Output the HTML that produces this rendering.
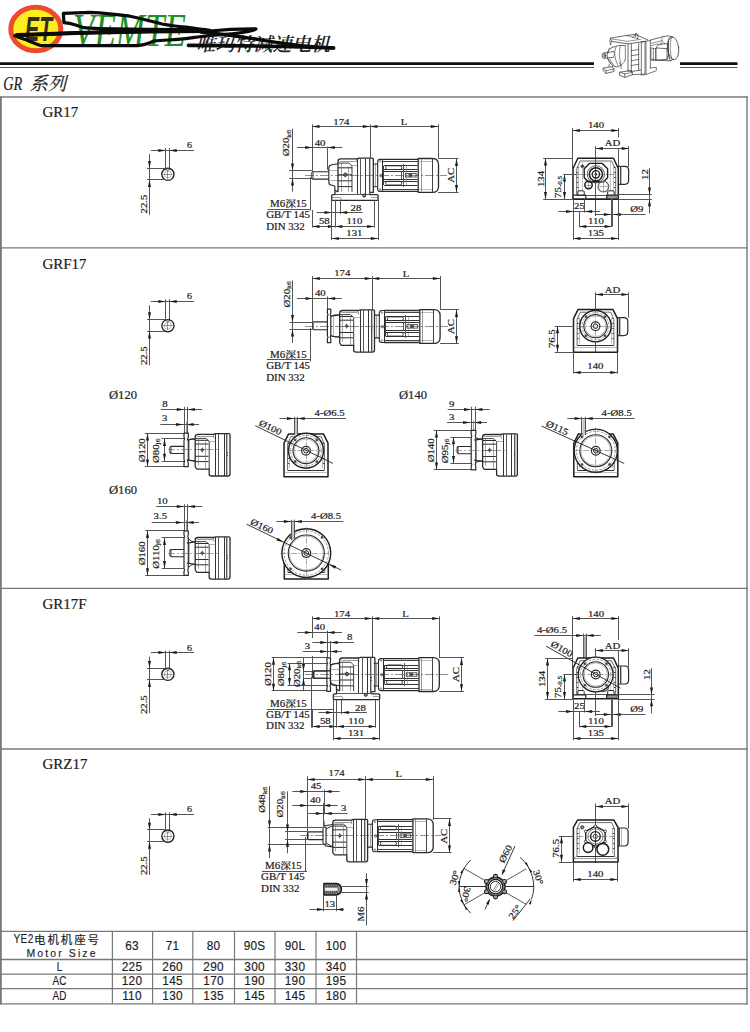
<!DOCTYPE html>
<html lang="zh"><head><meta charset="utf-8"><title>GR17</title>
<style>
html,body{margin:0;padding:0;background:#fff;}
body{width:750px;height:1032px;overflow:hidden;position:relative;}
svg{position:absolute;left:0;top:0;display:block;}
svg text{font-family:"Liberation Serif","Noto Serif CJK SC",serif;fill:#1c1c1c;stroke:#1c1c1c;stroke-width:.2px;}
svg text.sans{font-family:"Liberation Sans","Noto Sans CJK SC",sans-serif;stroke-width:.16px;}
svg text.it{font-style:italic;}
</style></head><body>
<svg width="750" height="1032" viewBox="0 0 750 1032">
<!-- s_frame -->
<line x1="0" y1="63.6" x2="594" y2="63.6" stroke="#111" stroke-width="2.6"/>
<line x1="0" y1="67.5" x2="594" y2="67.5" stroke="#555" stroke-width="1"/>
<line x1="680" y1="63.6" x2="737.5" y2="63.6" stroke="#111" stroke-width="2.6"/>
<line x1="680" y1="67.5" x2="737.5" y2="67.5" stroke="#555" stroke-width="1"/>
<text x="3.2" y="90.2" font-size="19.5" text-anchor="start" class="it" textLength="19" lengthAdjust="spacingAndGlyphs">GR</text>
<text x="29.4" y="90" font-size="18.4" text-anchor="start" class="it" >系列</text>
<line x1="0.9" y1="96.5" x2="0.9" y2="1004.4" stroke="#787878" stroke-width="1.8"/>
<line x1="747" y1="96.5" x2="747" y2="1004.4" stroke="#787878" stroke-width="1.4"/>
<line x1="0" y1="97" x2="747.7" y2="97" stroke="#787878" stroke-width="1.3"/>
<line x1="0" y1="247.8" x2="747.7" y2="247.8" stroke="#787878" stroke-width="1.3"/>
<line x1="0" y1="588.3" x2="747.7" y2="588.3" stroke="#787878" stroke-width="1.3"/>
<line x1="0" y1="749" x2="747.7" y2="749" stroke="#787878" stroke-width="1.3"/>
<text x="42.4" y="117" font-size="15" text-anchor="start" >GR17</text>
<text x="42.4" y="268.6" font-size="15" text-anchor="start" >GRF17</text>
<text x="42.4" y="608.6" font-size="15" text-anchor="start" >GR17F</text>
<text x="42.4" y="769" font-size="15" text-anchor="start" >GRZ17</text>
<!-- s_header -->
<ellipse cx="35.8" cy="29" rx="25" ry="21.8" fill="#fdee21" stroke="#ee4b2e" stroke-width="5"/>
<text x="38.6" y="40.6" font-size="35" text-anchor="middle" class="sans" style="fill:#3a2c1a;stroke:none" font-weight="bold" font-style="italic" textLength="27" lengthAdjust="spacingAndGlyphs">ET</text>
<text x="73" y="46.3" font-size="46.5" text-anchor="start" class="it" style="fill:#1f8f27;stroke:none" textLength="113" lengthAdjust="spacingAndGlyphs">VEMTE</text>
<g transform="translate(196 50.5) skewX(-14)" >
<text x="0" y="0" font-size="19" text-anchor="start" style="fill:#222;stroke:none" font-weight="600" textLength="134" lengthAdjust="spacingAndGlyphs">唯玛特减速电机</text>
</g>
<path d="M63.3 13.3 L90 12.3 C105 13 118 14.5 130 16.2 C142 18.5 152 21.5 162 24 C172 25.8 180 26.6 186 27.2 C195 28.5 203 29.6 210 30.4 L200 29.8 C170 29.6 130 29.4 100 28.7 C92 28.3 87 27.9 82.7 27.3 C79.5 26.6 77 25.6 74.7 24.7 C71 23.6 67 23 64 22.7 Z" fill="none" stroke="#0a0a0a" stroke-width="3.2" stroke-linejoin="round" stroke-linecap="round"/>
<path d="M14.7 35.7 C40 34 100 32.2 150 31.4 C175 31 195 30.8 210 31 C225 29.4 243 28.8 256 28.9 C252 31.5 238 33.6 218 35 C207 35.8 199 36.6 193 37.6 C188 38.4 183 39 178 39.4 C170 40 162 40.2 154 41 C148 43.5 143 45.4 138 45.6 L60 45.6 C50 45.6 44 45.6 40 45.3 C35 43.5 31 41.8 26.7 40 C22 38.8 18 37.5 14.7 35.7 Z" fill="none" stroke="#0a0a0a" stroke-width="3.2" stroke-linejoin="round" stroke-linecap="round"/>
<path d="M17 35.2 C60 33.2 130 31.6 205 31" fill="none" stroke="#0a0a0a" stroke-width="4.2" stroke-linejoin="round" stroke-linecap="round"/>
<path d="M100 29.3 L205 30.5" fill="none" stroke="#0a0a0a" stroke-width="3.4" stroke-linejoin="round" stroke-linecap="round"/>
<path d="M188.4 45.4 C230 45.5 290 46.6 333.6 48" fill="none" stroke="#0a0a0a" stroke-width="3.6" stroke-linejoin="round" stroke-linecap="round"/>
<path d="M201 32 C225 34.5 250 38 265 40.6 C282 43.5 300 46.2 333.6 48" fill="none" stroke="#0a0a0a" stroke-width="3.4" stroke-linejoin="round" stroke-linecap="round"/>
<!-- s_hdrgear -->
<g transform="translate(598 28) scale(0.066667)" fill="none" stroke="#333" stroke-width="11" stroke-linejoin="round" stroke-linecap="round">
<ellipse cx="88" cy="415" rx="27" ry="40"/>
<ellipse cx="90" cy="415" rx="13" ry="22" stroke-width="8"/>
<path d="M88 375 L238 352 M98 455 L215 440"/>
<path d="M238 352 Q262 400 232 445" stroke-width="8"/>
<path d="M215 290 Q120 330 140 440 Q165 540 255 580"/>
<path d="M215 290 Q300 250 400 262 M255 580 Q300 600 345 560"/>
<path d="M270 285 Q215 400 300 560" stroke-width="9"/>
<path d="M330 275 Q300 420 345 560 Q400 520 410 470" stroke-width="9"/>
<path d="M170 300 Q150 340 150 380" stroke-width="8"/>
<path d="M150 470 L200 540 M170 460 L230 545 M320 520 Q360 560 350 610" stroke-width="9"/>
<path d="M190 152 L425 112 L560 96 L745 180 M190 152 L200 200 L450 238 L700 202"/>
<path d="M215 165 L440 200 L640 170 M425 112 L600 160" stroke-width="8"/>
<path d="M200 200 L190 255 M190 152 L175 190 L185 250" stroke-width="9"/>
<path d="M520 150 L568 80 L602 100 L592 165 M568 80 L560 130" stroke-width="10"/>
<path d="M450 238 L450 640 M500 246 L500 652 M610 232 L610 640"/>
<path d="M410 262 L410 470" stroke-width="9"/>
<path d="M500 340 L610 322 M500 415 L610 398 M500 490 L610 472 M500 562 L610 545" stroke-width="10"/>
<path d="M650 210 L650 690 M705 200 L705 690 M720 198 L720 688 M785 188 L785 600" stroke-width="10"/>
<path d="M650 210 L785 188" stroke-width="10"/>
<path d="M450 640 L500 652 L640 632 M330 662 L500 640 L520 700 L400 742 L330 712 Z"/>
<path d="M400 690 L400 742 M400 690 L520 665 M330 662 L400 690" stroke-width="9"/>
<path d="M80 602 L200 580 L240 612 L240 652 L120 682 L80 642 Z"/>
<path d="M120 640 L120 682 M120 640 L240 615 M80 602 L120 640" stroke-width="9"/>
<path d="M165 585 L170 540 M215 590 L220 560" stroke-width="9"/>
<path d="M520 700 L705 690 M785 600 L875 590 L875 640 L715 700 L640 705" stroke-width="10"/>
<path d="M785 182 L975 130 M795 482 L1075 492"/>
<path d="M800 300 L865 310 L865 480 L800 470 Z M830 305 L830 476" stroke-width="9"/>
<path d="M875 300 L1035 310 L1035 470 L875 480 Z"/>
<path d="M875 300 L900 250 L1055 230 L1035 310 M1055 230 L1060 400 L1035 470" stroke-width="10"/>
<path d="M800 230 L960 190 M800 262 L900 240 M960 150 L960 235" stroke-width="8"/>
<path d="M985 210 L1000 240 M930 225 L945 255" stroke-width="8"/>
<ellipse cx="1128" cy="305" rx="82" ry="172" transform="rotate(-6 1128 305)"/>
<path d="M975 130 Q1060 100 1120 135 M1075 492 Q1100 490 1130 470"/>
<path d="M1065 150 Q1020 300 1080 480" stroke-width="10"/>
<path d="M1100 140 Q1060 300 1110 475" stroke-width="8"/>
<path d="M1040 200 L1060 205 M1035 250 L1055 255 M1045 420 L1065 425 M1050 450 L1072 455" stroke-width="7"/>
</g>
<!-- s_table -->
<line x1="0" y1="931.4" x2="747.7" y2="931.4" stroke="#787878" stroke-width="1.3"/>
<line x1="0" y1="959.5" x2="747.7" y2="959.5" stroke="#787878" stroke-width="1.3"/>
<line x1="0" y1="974.1" x2="747.7" y2="974.1" stroke="#787878" stroke-width="1.3"/>
<line x1="0" y1="988.7" x2="747.7" y2="988.7" stroke="#787878" stroke-width="1.3"/>
<line x1="0" y1="1003.8" x2="747.7" y2="1003.8" stroke="#787878" stroke-width="1.3"/>
<line x1="112.4" y1="931.4" x2="112.4" y2="1003.8" stroke="#787878" stroke-width="1.2"/>
<line x1="152.6" y1="931.4" x2="152.6" y2="1003.8" stroke="#787878" stroke-width="1.2"/>
<line x1="192.8" y1="931.4" x2="192.8" y2="1003.8" stroke="#787878" stroke-width="1.2"/>
<line x1="234.5" y1="931.4" x2="234.5" y2="1003.8" stroke="#787878" stroke-width="1.2"/>
<line x1="275" y1="931.4" x2="275" y2="1003.8" stroke="#787878" stroke-width="1.2"/>
<line x1="316" y1="931.4" x2="316" y2="1003.8" stroke="#787878" stroke-width="1.2"/>
<line x1="356.5" y1="931.4" x2="356.5" y2="1003.8" stroke="#787878" stroke-width="1.2"/>
<text transform="translate(13.4 943.2) scale(0.82 1)" font-size="12.4" text-anchor="start" class="sans"  letter-spacing="0.5">YE2</text>
<text x="34" y="943.6" font-size="11.5" text-anchor="start" class="sans"  letter-spacing="1.9">电机机座号</text>
<text transform="translate(26.4 957.2) scale(0.92 1)" font-size="11.4" text-anchor="start" class="sans"  letter-spacing="2.3">Motor Size</text>
<text transform="translate(132 950.2) scale(0.97 1)" font-size="12.2" text-anchor="middle" class="sans"  letter-spacing="0.3">63</text>
<text transform="translate(172.6 950.2) scale(0.97 1)" font-size="12.2" text-anchor="middle" class="sans"  letter-spacing="0.3">71</text>
<text transform="translate(213.6 950.2) scale(0.97 1)" font-size="12.2" text-anchor="middle" class="sans"  letter-spacing="0.3">80</text>
<text transform="translate(254.6 950.2) scale(0.97 1)" font-size="12.2" text-anchor="middle" class="sans"  letter-spacing="0.3">90S</text>
<text transform="translate(295 950.2) scale(0.97 1)" font-size="12.2" text-anchor="middle" class="sans"  letter-spacing="0.3">90L</text>
<text transform="translate(336 950.2) scale(0.97 1)" font-size="12.2" text-anchor="middle" class="sans"  letter-spacing="0.3">100</text>
<text transform="translate(59.6 970.8) scale(0.8 1)" font-size="12.4" text-anchor="middle" class="sans"  letter-spacing="0.4">L</text>
<text transform="translate(132 970.8) scale(0.97 1)" font-size="12.2" text-anchor="middle" class="sans"  letter-spacing="0.3">225</text>
<text transform="translate(172.6 970.8) scale(0.97 1)" font-size="12.2" text-anchor="middle" class="sans"  letter-spacing="0.3">260</text>
<text transform="translate(213.6 970.8) scale(0.97 1)" font-size="12.2" text-anchor="middle" class="sans"  letter-spacing="0.3">290</text>
<text transform="translate(254.6 970.8) scale(0.97 1)" font-size="12.2" text-anchor="middle" class="sans"  letter-spacing="0.3">300</text>
<text transform="translate(295 970.8) scale(0.97 1)" font-size="12.2" text-anchor="middle" class="sans"  letter-spacing="0.3">330</text>
<text transform="translate(336 970.8) scale(0.97 1)" font-size="12.2" text-anchor="middle" class="sans"  letter-spacing="0.3">340</text>
<text transform="translate(59.6 985.4) scale(0.8 1)" font-size="12.4" text-anchor="middle" class="sans"  letter-spacing="0.4">AC</text>
<text transform="translate(132 985.4) scale(0.97 1)" font-size="12.2" text-anchor="middle" class="sans"  letter-spacing="0.3">120</text>
<text transform="translate(172.6 985.4) scale(0.97 1)" font-size="12.2" text-anchor="middle" class="sans"  letter-spacing="0.3">145</text>
<text transform="translate(213.6 985.4) scale(0.97 1)" font-size="12.2" text-anchor="middle" class="sans"  letter-spacing="0.3">170</text>
<text transform="translate(254.6 985.4) scale(0.97 1)" font-size="12.2" text-anchor="middle" class="sans"  letter-spacing="0.3">190</text>
<text transform="translate(295 985.4) scale(0.97 1)" font-size="12.2" text-anchor="middle" class="sans"  letter-spacing="0.3">190</text>
<text transform="translate(336 985.4) scale(0.97 1)" font-size="12.2" text-anchor="middle" class="sans"  letter-spacing="0.3">195</text>
<text transform="translate(59.6 1000.4) scale(0.8 1)" font-size="12.4" text-anchor="middle" class="sans"  letter-spacing="0.4">AD</text>
<text transform="translate(132 1000.4) scale(0.97 1)" font-size="12.2" text-anchor="middle" class="sans"  letter-spacing="0.3">110</text>
<text transform="translate(172.6 1000.4) scale(0.97 1)" font-size="12.2" text-anchor="middle" class="sans"  letter-spacing="0.3">130</text>
<text transform="translate(213.6 1000.4) scale(0.97 1)" font-size="12.2" text-anchor="middle" class="sans"  letter-spacing="0.3">135</text>
<text transform="translate(254.6 1000.4) scale(0.97 1)" font-size="12.2" text-anchor="middle" class="sans"  letter-spacing="0.3">145</text>
<text transform="translate(295 1000.4) scale(0.97 1)" font-size="12.2" text-anchor="middle" class="sans"  letter-spacing="0.3">145</text>
<text transform="translate(336 1000.4) scale(0.97 1)" font-size="12.2" text-anchor="middle" class="sans"  letter-spacing="0.3">180</text>
<!-- s_parts -->
<!-- s_gr17 -->
<line x1="150.8" y1="150.5" x2="194" y2="150.5" stroke="#555" stroke-width="1"/>
<path d="M165.5 150.5 L158.3 152 L158.3 149 Z" fill="#1c1c1c"/>
<path d="M169.5 150.5 L176.7 149 L176.7 152 Z" fill="#1c1c1c"/>
<text transform="translate(189.4 148.1) scale(1.25 1)" font-size="8" text-anchor="middle" >6</text>
<line x1="165.5" y1="148" x2="165.5" y2="168.7" stroke="#555" stroke-width="1"/>
<line x1="169.5" y1="148" x2="169.5" y2="168.7" stroke="#555" stroke-width="1"/>
<circle cx="167.9" cy="174.3" r="6.1" fill="none" stroke="#1e1e1e" stroke-width="1.35"/>
<circle cx="167.9" cy="174.3" r="3.6" fill="none" stroke="#777" stroke-width="0.5"/>
<line x1="163.4" y1="174.5" x2="172.4" y2="174.5" stroke="#555" stroke-width="0.6"/>
<line x1="167.5" y1="169.8" x2="167.5" y2="178.8" stroke="#555" stroke-width="0.6"/>
<circle cx="167.9" cy="169.6" r="1" fill="#fff" stroke="#333" stroke-width="0.6"/>
<line x1="147" y1="168.5" x2="165.9" y2="168.5" stroke="#555" stroke-width="1"/>
<line x1="147" y1="179.5" x2="164.4" y2="179.5" stroke="#555" stroke-width="1"/>
<line x1="149.5" y1="154" x2="149.5" y2="214.8" stroke="#555" stroke-width="1"/>
<path d="M149.5 168.1 L148 160.9 L151 160.9 Z" fill="#1c1c1c"/>
<path d="M149.5 179.8 L151 187 L148 187 Z" fill="#1c1c1c"/>
<text transform="translate(146.6 204) rotate(-90) scale(1.17 1)" font-size="9.2" text-anchor="middle" >22.5</text>
<line x1="312.3" y1="126.5" x2="370.1" y2="126.5" stroke="#555" stroke-width="1"/>
<path d="M312.3 126.5 L319.5 125 L319.5 128 Z" fill="#1c1c1c"/>
<path d="M370.1 126.5 L362.9 128 L362.9 125 Z" fill="#1c1c1c"/>
<line x1="370.1" y1="126.5" x2="438" y2="126.5" stroke="#555" stroke-width="1"/>
<path d="M370.1 126.5 L377.3 125 L377.3 128 Z" fill="#1c1c1c"/>
<path d="M438 126.5 L430.8 128 L430.8 125 Z" fill="#1c1c1c"/>
<text transform="translate(341.4 124.7) scale(1.17 1)" font-size="9.2" text-anchor="middle" >174</text>
<text transform="translate(404 125.2) scale(1.17 1)" font-size="9.2" text-anchor="middle" >L</text>
<line x1="312.5" y1="124.3" x2="312.5" y2="171" stroke="#555" stroke-width="1"/>
<line x1="310.5" y1="177" x2="310.5" y2="210.5" stroke="#555" stroke-width="1"/>
<line x1="370.5" y1="124.3" x2="370.5" y2="158" stroke="#555" stroke-width="1"/>
<line x1="438.5" y1="124.3" x2="438.5" y2="158.7" stroke="#555" stroke-width="1"/>
<line x1="297.2" y1="147.5" x2="342.5" y2="147.5" stroke="#555" stroke-width="1"/>
<path d="M312.3 147.5 L305.1 149 L305.1 146 Z" fill="#1c1c1c"/>
<path d="M327.6 147.5 L334.8 146 L334.8 149 Z" fill="#1c1c1c"/>
<text transform="translate(320.1 145.7) scale(1.17 1)" font-size="9.2" text-anchor="middle" >40</text>
<line x1="327.5" y1="146.7" x2="327.5" y2="169.8" stroke="#555" stroke-width="1"/>
<text transform="translate(289.4 143.1) rotate(-90) scale(1.17 1)" font-size="9.2" text-anchor="middle" >Ø20<tspan font-size="6.6" dy="1.5">k6</tspan></text>
<line x1="292.5" y1="128.7" x2="292.5" y2="191.7" stroke="#555" stroke-width="1"/>
<path d="M292.5 170.7 L291 163.5 L294 163.5 Z" fill="#1c1c1c"/>
<path d="M292.5 178.3 L294 185.5 L291 185.5 Z" fill="#1c1c1c"/>
<line x1="289.2" y1="170.5" x2="312" y2="170.5" stroke="#555" stroke-width="1"/>
<line x1="289.2" y1="178.5" x2="312" y2="178.5" stroke="#555" stroke-width="1"/>
<line x1="305" y1="175.5" x2="447" y2="175.5" stroke="#444" stroke-width="0.6" stroke-dasharray="9 2 2 2"/>
<g transform="translate(373.3 175.4)" >
<path d="M-44.5 -3.7 H-60.4 L-61.4 -2.7 V2.7 L-60.4 3.7 H-44.5" fill="none" stroke="#2b2b2b" stroke-width="1.15" stroke-linejoin="round" />
<line x1="-59.8" y1="-3.7" x2="-59.8" y2="3.7" stroke="#555" stroke-width="0.6"/>
<path d="M-35.3 -11.7 L-41.5 -10.6 Q-44.5 -10 -44.5 -7.5 V6.5 Q-44.5 9 -42 9.6 L-38.5 10.6 V14.5 L-35.3 16.5" fill="none" stroke="#2b2b2b" stroke-width="1.15" stroke-linejoin="round" />
<line x1="-44.5" y1="-4.9" x2="-35.3" y2="-4.9" stroke="#666" stroke-width="0.5"/>
<line x1="-44.5" y1="5.1" x2="-35.3" y2="5.1" stroke="#666" stroke-width="0.5"/>
<path d="M-35.3 16.5 V-14 Q-35.3 -16.6 -32.5 -16.6 H-16 L-14.5 -17.3 H-1.2 Q0 -17.3 0 -16 V17 H-3.5 V19.2" fill="none" stroke="#2b2b2b" stroke-width="1.3" stroke-linejoin="round" />
<path d="M-35.3 -12.3 H-24 L-21.3 -9.5 V16.6" fill="none" stroke="#2b2b2b" stroke-width="0.9" stroke-linejoin="round" />
<line x1="-35.3" y1="-7.6" x2="-21.3" y2="-7.6" stroke="#2a2a2a" stroke-width="1"/>
<line x1="-35.3" y1="-0.6" x2="-21.3" y2="-0.6" stroke="#2a2a2a" stroke-width="1"/>
<line x1="-35.3" y1="5.4" x2="-21.3" y2="5.4" stroke="#2a2a2a" stroke-width="1"/>
<line x1="-35.3" y1="11.2" x2="-21.3" y2="11.2" stroke="#2a2a2a" stroke-width="1"/>
<line x1="-31.8" y1="-12.3" x2="-31.8" y2="16.6" stroke="#666" stroke-width="0.6"/>
<line x1="-24.8" y1="-9" x2="-24.8" y2="16.6" stroke="#666" stroke-width="0.6"/>
<line x1="-33.5" y1="-13.9" x2="-17" y2="-13.9" stroke="#555" stroke-width="0.6"/>
<line x1="-17" y1="-16.6" x2="-15.8" y2="-12.5" stroke="#555" stroke-width="0.7"/>
<circle cx="-28" cy="-0.6" r="1.7" fill="#666" stroke="#2b2b2b" stroke-width="0.8"/>
<line x1="-30.6" y1="-0.9" x2="-25.4" y2="-0.9" stroke="#555" stroke-width="0.5"/>
<line x1="-27.8" y1="-3.2" x2="-27.8" y2="2" stroke="#555" stroke-width="0.5"/>
<line x1="-15.8" y1="-17" x2="-15.8" y2="18.6" stroke="#333" stroke-width="1"/>
<line x1="-12.8" y1="-17" x2="-12.8" y2="18.6" stroke="#555" stroke-width="1"/>
<line x1="-7.8" y1="-17" x2="-7.8" y2="18.6" stroke="#333" stroke-width="1"/>
<line x1="-3.8" y1="-17" x2="-3.8" y2="18.6" stroke="#555" stroke-width="1"/>
<line x1="-2.8" y1="-17" x2="-2.8" y2="18.6" stroke="#777" stroke-width="0.5"/>
<line x1="-21.3" y1="-9.9" x2="-16" y2="-9.9" stroke="#666" stroke-width="0.5"/>
<line x1="-3.8" y1="2.5" x2="-3.8" y2="3.3" stroke="#222" stroke-width="1"/>
<line x1="-3.8" y1="5.3" x2="-3.8" y2="6.1" stroke="#222" stroke-width="1"/>
<path d="M-38.3 14.5 V19.2 H-40.5 Q-41.6 19.2 -41.6 20.4 V24 Q-41.6 25 -40.5 25 H3.7 Q4.8 25 4.8 24 V20.4 Q4.8 19.2 3.7 19.2 H-3.5" fill="none" stroke="#2b2b2b" stroke-width="1.3" stroke-linejoin="round" />
<line x1="-38.3" y1="19.1" x2="-3.5" y2="19.1" stroke="#555" stroke-width="1"/>
<line x1="-41.6" y1="22.1" x2="-33" y2="22.1" stroke="#555" stroke-width="0.6"/>
<line x1="-33" y1="22" x2="-31.5" y2="25" stroke="#555" stroke-width="0.6"/>
<line x1="4.8" y1="22.1" x2="-2" y2="22.1" stroke="#555" stroke-width="0.6"/>
<circle cx="-9.1" cy="20.2" r="1.6" fill="#777" stroke="#2b2b2b" stroke-width="0.8"/>
</g>
<g transform="translate(372.9 175.4)" >
<path d="M0 -11.4 H4.8 M0 11.4 H4.8" fill="none" stroke="#2b2b2b" stroke-width="1.1" stroke-linejoin="round" />
<line x1="2.6" y1="-11.4" x2="2.6" y2="11.4" stroke="#666" stroke-width="0.6"/>
<path d="M9.6 -16 H7 Q4.8 -16 4.8 -13.5 V13.5 Q4.8 16 7 16 H9.6" fill="none" stroke="#2b2b2b" stroke-width="1.1" stroke-linejoin="round" />
<line x1="9.6" y1="-16" x2="9.6" y2="16" stroke="#2b2b2b" stroke-width="1"/>
<circle cx="8" cy="0.2" r="1.2" fill="none" stroke="#2b2b2b" stroke-width="0.7"/>
<circle cx="7.4" cy="-14" r="0.8" fill="none" stroke="#2b2b2b" stroke-width="0.5"/>
<circle cx="7.4" cy="14" r="0.8" fill="none" stroke="#2b2b2b" stroke-width="0.5"/>
<path d="M9.6 -16 H45.3 M9.6 16 H45.3" fill="none" stroke="#2b2b2b" stroke-width="1.3" stroke-linejoin="round" />
<line x1="9.6" y1="-13.9" x2="45.3" y2="-13.9" stroke="#444" stroke-width="1"/>
<line x1="9.6" y1="14.1" x2="45.3" y2="14.1" stroke="#444" stroke-width="1"/>
<line x1="11" y1="-9.9" x2="44.5" y2="-9.9" stroke="#333" stroke-width="1"/>
<line x1="11" y1="-5.9" x2="44.5" y2="-5.9" stroke="#333" stroke-width="1"/>
<line x1="11" y1="-3.9" x2="44.5" y2="-3.9" stroke="#333" stroke-width="1"/>
<line x1="11" y1="4.1" x2="44.5" y2="4.1" stroke="#333" stroke-width="1"/>
<line x1="11" y1="6.1" x2="44.5" y2="6.1" stroke="#333" stroke-width="1"/>
<line x1="11" y1="10.1" x2="44.5" y2="10.1" stroke="#333" stroke-width="1"/>
<line x1="10.6" y1="-9.6" x2="10.6" y2="9.6" stroke="#444" stroke-width="1"/>
<rect x="12.8" y="-9.6" width="16" height="3.7" rx="1.6" fill="none" stroke="#2b2b2b" stroke-width="0.9"/>
<rect x="12.8" y="5.9" width="16" height="3.7" rx="1.6" fill="none" stroke="#2b2b2b" stroke-width="0.9"/>
<line x1="30.6" y1="-11.5" x2="30.6" y2="11.5" stroke="#555" stroke-width="1"/>
<line x1="28.6" y1="-3.7" x2="28.6" y2="3.7" stroke="#555" stroke-width="1"/>
<rect x="32.5" y="-1.8" width="10.7" height="3.4" rx="0" fill="none" stroke="#2b2b2b" stroke-width="0.8"/>
<rect x="36" y="-1" width="3" height="1.9" rx="0" fill="#444" stroke="#2b2b2b" stroke-width="0.6"/>
<line x1="33.6" y1="-9.6" x2="33.6" y2="9.6" stroke="#777" stroke-width="0.5"/>
<path d="M45.3 -16.9 H59.5 Q65.6 -16.9 65.6 -11 V11 Q65.6 16.9 59.5 16.9 H45.3 Z" fill="none" stroke="#2b2b2b" stroke-width="1.3" stroke-linejoin="round" />
<line x1="48.6" y1="-16.9" x2="48.6" y2="16.9" stroke="#555" stroke-width="0.6"/>
<line x1="59.6" y1="-16.9" x2="59.6" y2="16.9" stroke="#444" stroke-width="1"/>
<line x1="45.3" y1="-13.9" x2="59.2" y2="-13.9" stroke="#777" stroke-width="0.5"/>
<line x1="45.3" y1="14.1" x2="59.2" y2="14.1" stroke="#777" stroke-width="0.5"/>
</g>
<line x1="438" y1="158.5" x2="458.5" y2="158.5" stroke="#555" stroke-width="1"/>
<line x1="438" y1="192.5" x2="458.5" y2="192.5" stroke="#555" stroke-width="1"/>
<line x1="456.5" y1="158.7" x2="456.5" y2="192.2" stroke="#555" stroke-width="1"/>
<path d="M456.5 158.7 L458 165.9 L455 165.9 Z" fill="#1c1c1c"/>
<path d="M456.5 192.2 L455 185 L458 185 Z" fill="#1c1c1c"/>
<text transform="translate(454.1 175.4) rotate(-90) scale(1.17 1)" font-size="9.2" text-anchor="middle" >AC</text>
<text transform="translate(270 207.4) scale(1.15 1)" font-size="9.5" text-anchor="start" >M6<tspan font-size="9.3">深</tspan>15</text>
<line x1="267.5" y1="209.5" x2="310.6" y2="209.5" stroke="#555" stroke-width="1"/>
<text transform="translate(266.2 218) scale(1.15 1)" font-size="9.5" text-anchor="start" >GB/T 145</text>
<text transform="translate(266.2 229.7) scale(1.15 1)" font-size="9.5" text-anchor="start" >DIN 332</text>
<line x1="316.7" y1="212.5" x2="362.6" y2="212.5" stroke="#555" stroke-width="1"/>
<path d="M331.7 212.5 L324.5 214 L324.5 211 Z" fill="#1c1c1c"/>
<path d="M340 212.5 L347.2 211 L347.2 214 Z" fill="#1c1c1c"/>
<text transform="translate(356 210.6) scale(1.17 1)" font-size="9.2" text-anchor="middle" >28</text>
<line x1="312.3" y1="226.5" x2="335.1" y2="226.5" stroke="#555" stroke-width="1"/>
<path d="M312.3 226.5 L319.5 225 L319.5 228 Z" fill="#1c1c1c"/>
<path d="M335.1 226.5 L327.9 228 L327.9 225 Z" fill="#1c1c1c"/>
<line x1="335.1" y1="226.5" x2="374.3" y2="226.5" stroke="#555" stroke-width="1"/>
<path d="M335.1 226.5 L342.3 225 L342.3 228 Z" fill="#1c1c1c"/>
<path d="M374.3 226.5 L367.1 228 L367.1 225 Z" fill="#1c1c1c"/>
<text transform="translate(324.3 223.7) scale(1.17 1)" font-size="9.2" text-anchor="middle" >58</text>
<text transform="translate(354.4 223.9) scale(1.17 1)" font-size="9.2" text-anchor="middle" >110</text>
<line x1="331.7" y1="238.5" x2="378.1" y2="238.5" stroke="#555" stroke-width="1"/>
<path d="M331.7 238.5 L338.9 237 L338.9 240 Z" fill="#1c1c1c"/>
<path d="M378.1 238.5 L370.9 240 L370.9 237 Z" fill="#1c1c1c"/>
<text transform="translate(354.4 236.3) scale(1.17 1)" font-size="9.2" text-anchor="middle" >131</text>
<line x1="331.5" y1="200" x2="331.5" y2="240.2" stroke="#555" stroke-width="1"/>
<line x1="335.5" y1="200" x2="335.5" y2="227.6" stroke="#555" stroke-width="1"/>
<line x1="340.5" y1="200" x2="340.5" y2="214.2" stroke="#555" stroke-width="1"/>
<line x1="374.5" y1="200" x2="374.5" y2="227.6" stroke="#555" stroke-width="1"/>
<line x1="378.5" y1="200" x2="378.5" y2="240.2" stroke="#555" stroke-width="1"/>
<line x1="312.5" y1="210" x2="312.5" y2="227.6" stroke="#555" stroke-width="1"/>
<line x1="572.7" y1="130.5" x2="618.6" y2="130.5" stroke="#555" stroke-width="1"/>
<path d="M572.7 130.5 L579.9 129 L579.9 132 Z" fill="#1c1c1c"/>
<path d="M618.6 130.5 L611.4 132 L611.4 129 Z" fill="#1c1c1c"/>
<text transform="translate(596 128.3) scale(1.17 1)" font-size="9.2" text-anchor="middle" >140</text>
<line x1="572.5" y1="128" x2="572.5" y2="168" stroke="#555" stroke-width="1"/>
<line x1="618.5" y1="128" x2="618.5" y2="137.5" stroke="#555" stroke-width="1"/>
<line x1="618.5" y1="148.5" x2="618.5" y2="168" stroke="#555" stroke-width="1"/>
<line x1="595.7" y1="148.5" x2="628.9" y2="148.5" stroke="#555" stroke-width="1"/>
<path d="M595.7 148.5 L602.9 147 L602.9 150 Z" fill="#1c1c1c"/>
<path d="M628.9 148.5 L621.7 150 L621.7 147 Z" fill="#1c1c1c"/>
<text transform="translate(612.4 146.4) scale(1.17 1)" font-size="9.2" text-anchor="middle" >AD</text>
<line x1="595.5" y1="146" x2="595.5" y2="216" stroke="#555" stroke-width="1"/>
<line x1="628.5" y1="146" x2="628.5" y2="167" stroke="#555" stroke-width="1"/>
<g transform="translate(573 158.3)" >
<path d="M0 40.8 V10.2 L4.8 0 H40.5 L45.3 10.2 V40.8" fill="none" stroke="#1e1e1e" stroke-width="1.5" stroke-linejoin="round" />
<line x1="-0.5" y1="40.8" x2="45.8" y2="40.8" stroke="#1e1e1e" stroke-width="1.6"/>
<path d="M3.7 36.8 V11 L7 2.7 H38.4 L42.7 11 V36.8" fill="none" stroke="#444" stroke-width="0.8" stroke-linejoin="round" />
<line x1="3.7" y1="37.2" x2="42.7" y2="37.2" stroke="#555" stroke-width="1"/>
<line x1="3.7" y1="9.2" x2="5.3" y2="9.2" stroke="#444" stroke-width="1"/>
<line x1="41" y1="9.2" x2="42.7" y2="9.2" stroke="#444" stroke-width="1"/>
<line x1="3.7" y1="14.2" x2="5.3" y2="14.2" stroke="#444" stroke-width="1"/>
<line x1="41" y1="14.2" x2="42.7" y2="14.2" stroke="#444" stroke-width="1"/>
<line x1="3.7" y1="19.2" x2="5.3" y2="19.2" stroke="#444" stroke-width="1"/>
<line x1="41" y1="19.2" x2="42.7" y2="19.2" stroke="#444" stroke-width="1"/>
<line x1="3.7" y1="24.2" x2="5.3" y2="24.2" stroke="#444" stroke-width="1"/>
<line x1="41" y1="24.2" x2="42.7" y2="24.2" stroke="#444" stroke-width="1"/>
<line x1="3.7" y1="29.2" x2="5.3" y2="29.2" stroke="#444" stroke-width="1"/>
<line x1="41" y1="29.2" x2="42.7" y2="29.2" stroke="#444" stroke-width="1"/>
<line x1="5.5" y1="8" x2="5.5" y2="34" stroke="#777" stroke-width="0.5"/>
<line x1="40.5" y1="8" x2="40.5" y2="34" stroke="#777" stroke-width="0.5"/>
<line x1="9.5" y1="4" x2="9.5" y2="33" stroke="#888" stroke-width="0.5"/>
<line x1="37.5" y1="4" x2="37.5" y2="33" stroke="#888" stroke-width="0.5"/>
<path d="M11.2 10.5 L16.5 5.1 L29.3 5.1 L34.6 10.5 L34.6 19.5 L30.5 23.5 L15.3 23.5 L11.2 19.5 Z" fill="none" stroke="#1e1e1e" stroke-width="1.4" stroke-linejoin="round" />
<circle cx="22.9" cy="16" r="8.6" fill="none" stroke="#333" stroke-width="0.8"/>
<circle cx="22.9" cy="16" r="6.6" fill="none" stroke="#1e1e1e" stroke-width="1.5"/>
<circle cx="22.9" cy="16" r="3.7" fill="none" stroke="#1e1e1e" stroke-width="1.3"/>
<circle cx="22.9" cy="16" r="1.1" fill="#555" stroke="#2b2b2b" stroke-width="0.7"/>
<circle cx="15.5" cy="26.7" r="3.7" fill="none" stroke="#1e1e1e" stroke-width="1.5"/>
<line x1="12.5" y1="27.2" x2="18.5" y2="27.2" stroke="#666" stroke-width="0.5"/>
<line x1="15.5" y1="23.7" x2="15.5" y2="29.7" stroke="#666" stroke-width="0.5"/>
<circle cx="30.4" cy="28.3" r="5.3" fill="none" stroke="#666" stroke-width="1.3"/>
<line x1="25.5" y1="28.2" x2="35.3" y2="28.2" stroke="#666" stroke-width="0.5"/>
<line x1="30.5" y1="23.4" x2="30.5" y2="33.2" stroke="#666" stroke-width="0.5"/>
<path d="M7.6 8 L9.4 6.2 L11.2 8 L9.4 9.8 Z" fill="#444" stroke="#222" stroke-width="0.6" stroke-linejoin="round" />
<path d="M0 36.8 H12.8 V40.8" fill="none" stroke="#2b2b2b" stroke-width="1.2" stroke-linejoin="round" />
<path d="M4.8 36.8 V33.5 Q4.8 32.5 5.8 32.5 H10.2 Q11.2 32.5 11.2 33.5 V36.8" fill="none" stroke="#2b2b2b" stroke-width="1" stroke-linejoin="round" />
<path d="M45.3 36.8 H33.6 V40.8" fill="none" stroke="#2b2b2b" stroke-width="1.2" stroke-linejoin="round" />
<path d="M34.7 36.8 V33.5 Q34.7 32.5 35.7 32.5 H40.1 Q41.1 32.5 41.1 33.5 V36.8" fill="none" stroke="#2b2b2b" stroke-width="1" stroke-linejoin="round" />
<rect x="34.6" y="37.5" width="9" height="2.5" rx="0" fill="#999" stroke="#333" stroke-width="0.5"/>
<line x1="4" y1="16.2" x2="42.5" y2="16.2" stroke="#555" stroke-width="0.5" stroke-dasharray="6 1.5 1.5 1.5"/>
</g>
<path d="M618.3 166.3 H624.8 Q628.6 166.3 628.6 170.3 V180.3 Q628.6 184.3 624.8 184.3 H618.3" fill="none" stroke="#2b2b2b" stroke-width="1.2" stroke-linejoin="round" />
<line x1="620.5" y1="166.3" x2="620.5" y2="184.3" stroke="#444" stroke-width="1"/>
<line x1="621.5" y1="166.3" x2="621.5" y2="184.3" stroke="#777" stroke-width="0.5"/>
<line x1="543.2" y1="158.5" x2="573" y2="158.5" stroke="#555" stroke-width="1"/>
<line x1="543.2" y1="199.5" x2="573" y2="199.5" stroke="#555" stroke-width="1"/>
<line x1="545.5" y1="158.2" x2="545.5" y2="199.3" stroke="#555" stroke-width="1"/>
<path d="M545.5 158.2 L547 165.4 L544 165.4 Z" fill="#1c1c1c"/>
<path d="M545.5 199.3 L544 192.1 L547 192.1 Z" fill="#1c1c1c"/>
<text transform="translate(543.5 179) rotate(-90) scale(1.17 1)" font-size="9.2" text-anchor="middle" >134</text>
<line x1="563.4" y1="174.5" x2="577" y2="174.5" stroke="#555" stroke-width="1"/>
<line x1="564.5" y1="174.4" x2="564.5" y2="199.3" stroke="#555" stroke-width="1"/>
<path d="M564.5 174.4 L566 181.6 L563 181.6 Z" fill="#1c1c1c"/>
<path d="M564.5 199.3 L563 192.1 L566 192.1 Z" fill="#1c1c1c"/>
<text transform="translate(560.6 187) rotate(-90) scale(1.17 1)" font-size="9.2" text-anchor="middle" >75<tspan font-size="6" dy="1.2">-0.5</tspan></text>
<line x1="618.3" y1="194.5" x2="651.9" y2="194.5" stroke="#555" stroke-width="1"/>
<line x1="618.3" y1="199.5" x2="651.9" y2="199.5" stroke="#555" stroke-width="1"/>
<line x1="649.5" y1="168.2" x2="649.5" y2="213.4" stroke="#555" stroke-width="1"/>
<path d="M649.5 194.8 L648 187.6 L651 187.6 Z" fill="#1c1c1c"/>
<path d="M649.5 199 L651 206.2 L648 206.2 Z" fill="#1c1c1c"/>
<text transform="translate(647.5 174.5) rotate(-90) scale(1.17 1)" font-size="9.2" text-anchor="middle" >12</text>
<text transform="translate(636.9 212.2) scale(1.17 1)" font-size="9.2" text-anchor="middle" >Ø9</text>
<line x1="595.9" y1="214.5" x2="645.5" y2="214.5" stroke="#555" stroke-width="1"/>
<path d="M611 214.5 L603.8 216 L603.8 213 Z" fill="#1c1c1c"/>
<path d="M613.4 214.5 L620.6 213 L620.6 216 Z" fill="#1c1c1c"/>
<line x1="611.5" y1="199.3" x2="611.5" y2="226.5" stroke="#555" stroke-width="1"/>
<line x1="612.5" y1="199.3" x2="612.5" y2="226.5" stroke="#555" stroke-width="1"/>
<line x1="558.3" y1="211.5" x2="599.9" y2="211.5" stroke="#555" stroke-width="1"/>
<path d="M573.2 211.5 L566 213 L566 210 Z" fill="#1c1c1c"/>
<path d="M584.9 211.5 L592.1 210 L592.1 213 Z" fill="#1c1c1c"/>
<text transform="translate(579.5 208.7) scale(1.17 1)" font-size="9.2" text-anchor="middle" >25</text>
<line x1="584.5" y1="199.3" x2="584.5" y2="212.5" stroke="#555" stroke-width="1"/>
<line x1="579.1" y1="226.5" x2="611.9" y2="226.5" stroke="#555" stroke-width="1"/>
<path d="M579.1 226.5 L586.3 225 L586.3 228 Z" fill="#1c1c1c"/>
<path d="M611.9 226.5 L604.7 228 L604.7 225 Z" fill="#1c1c1c"/>
<text transform="translate(595.9 223.5) scale(1.17 1)" font-size="9.2" text-anchor="middle" >110</text>
<line x1="573.2" y1="238.5" x2="618.3" y2="238.5" stroke="#555" stroke-width="1"/>
<path d="M573.2 238.5 L580.4 237 L580.4 240 Z" fill="#1c1c1c"/>
<path d="M618.3 238.5 L611.1 240 L611.1 237 Z" fill="#1c1c1c"/>
<text transform="translate(595.9 236.2) scale(1.17 1)" font-size="9.2" text-anchor="middle" >135</text>
<line x1="573.5" y1="199.3" x2="573.5" y2="240.2" stroke="#555" stroke-width="1"/>
<line x1="579.5" y1="212" x2="579.5" y2="227.3" stroke="#555" stroke-width="1"/>
<line x1="618.5" y1="199.3" x2="618.5" y2="240.2" stroke="#555" stroke-width="1"/>
<!-- s_grf17 -->
<line x1="150.8" y1="301.5" x2="194" y2="301.5" stroke="#555" stroke-width="1"/>
<path d="M165.5 301.5 L158.3 303 L158.3 300 Z" fill="#1c1c1c"/>
<path d="M169.5 301.5 L176.7 300 L176.7 303 Z" fill="#1c1c1c"/>
<text transform="translate(189.4 299.4) scale(1.25 1)" font-size="8" text-anchor="middle" >6</text>
<line x1="165.5" y1="299.3" x2="165.5" y2="320.1" stroke="#555" stroke-width="1"/>
<line x1="169.5" y1="299.3" x2="169.5" y2="320.1" stroke="#555" stroke-width="1"/>
<circle cx="167.9" cy="325.7" r="6.1" fill="none" stroke="#1e1e1e" stroke-width="1.35"/>
<circle cx="167.9" cy="325.7" r="3.6" fill="none" stroke="#777" stroke-width="0.5"/>
<line x1="163.4" y1="325.5" x2="172.4" y2="325.5" stroke="#555" stroke-width="0.6"/>
<line x1="167.5" y1="321.2" x2="167.5" y2="330.2" stroke="#555" stroke-width="0.6"/>
<circle cx="167.9" cy="321" r="1" fill="#fff" stroke="#333" stroke-width="0.6"/>
<line x1="147" y1="319.5" x2="165.9" y2="319.5" stroke="#555" stroke-width="1"/>
<line x1="147" y1="331.5" x2="164.4" y2="331.5" stroke="#555" stroke-width="1"/>
<line x1="149.5" y1="305.3" x2="149.5" y2="365.3" stroke="#555" stroke-width="1"/>
<path d="M149.5 319.5 L148 312.3 L151 312.3 Z" fill="#1c1c1c"/>
<path d="M149.5 331.2 L151 338.4 L148 338.4 Z" fill="#1c1c1c"/>
<text transform="translate(146.6 355.7) rotate(-90) scale(1.17 1)" font-size="9.2" text-anchor="middle" >22.5</text>
<line x1="312.7" y1="278.5" x2="372" y2="278.5" stroke="#555" stroke-width="1"/>
<path d="M312.7 278.5 L319.9 277 L319.9 280 Z" fill="#1c1c1c"/>
<path d="M372 278.5 L364.8 280 L364.8 277 Z" fill="#1c1c1c"/>
<line x1="372" y1="278.5" x2="440.1" y2="278.5" stroke="#555" stroke-width="1"/>
<path d="M372 278.5 L379.2 277 L379.2 280 Z" fill="#1c1c1c"/>
<path d="M440.1 278.5 L432.9 280 L432.9 277 Z" fill="#1c1c1c"/>
<text transform="translate(342.3 276.4) scale(1.17 1)" font-size="9.2" text-anchor="middle" >174</text>
<text transform="translate(406 276.8) scale(1.17 1)" font-size="9.2" text-anchor="middle" >L</text>
<line x1="312.5" y1="276" x2="312.5" y2="322" stroke="#555" stroke-width="1"/>
<line x1="310.5" y1="328" x2="310.5" y2="361.5" stroke="#555" stroke-width="1"/>
<line x1="372.5" y1="276" x2="372.5" y2="310" stroke="#555" stroke-width="1"/>
<line x1="440.5" y1="276" x2="440.5" y2="309.5" stroke="#555" stroke-width="1"/>
<line x1="297" y1="298.5" x2="341.8" y2="298.5" stroke="#555" stroke-width="1"/>
<path d="M312.7 298.5 L305.5 300 L305.5 297 Z" fill="#1c1c1c"/>
<path d="M327.9 298.5 L335.1 297 L335.1 300 Z" fill="#1c1c1c"/>
<text transform="translate(320.3 295.6) scale(1.17 1)" font-size="9.2" text-anchor="middle" >40</text>
<line x1="327.5" y1="296.5" x2="327.5" y2="309.3" stroke="#555" stroke-width="1"/>
<text transform="translate(289.6 294.3) rotate(-90) scale(1.17 1)" font-size="9.2" text-anchor="middle" >Ø20<tspan font-size="6.6" dy="1.5">k6</tspan></text>
<line x1="292.5" y1="280.5" x2="292.5" y2="342.9" stroke="#555" stroke-width="1"/>
<path d="M292.5 322.3 L291 315.1 L294 315.1 Z" fill="#1c1c1c"/>
<path d="M292.5 329.4 L294 336.6 L291 336.6 Z" fill="#1c1c1c"/>
<line x1="289.5" y1="322.5" x2="312.5" y2="322.5" stroke="#555" stroke-width="1"/>
<line x1="289.5" y1="329.5" x2="312.5" y2="329.5" stroke="#555" stroke-width="1"/>
<line x1="305" y1="326.5" x2="448" y2="326.5" stroke="#444" stroke-width="0.6" stroke-dasharray="9 2 2 2"/>
<path d="M328 321.9 H313.7 L312.7 322.9 V328.7 L313.7 329.7 H328" fill="none" stroke="#2b2b2b" stroke-width="1.15" stroke-linejoin="round" />
<line x1="313.5" y1="321.9" x2="313.5" y2="329.7" stroke="#555" stroke-width="0.6"/>
<path d="M327.4 309.1 H330.8 V313.1 Q329.6 314.6 330.8 316.1 V335.7 Q329.6 337.2 330.8 338.7 V342.7 H327.4 V338.7 Q328.6 337.2 327.4 335.7 V316.1 Q328.6 314.6 327.4 313.1 Z" fill="none" stroke="#2b2b2b" stroke-width="1.2" stroke-linejoin="round" />
<path d="M330.8 316.6 Q332.3 314.4 339.7 315.1" fill="none" stroke="#2b2b2b" stroke-width="1" stroke-linejoin="round" />
<path d="M330.8 335.2 Q332.3 337.4 339.7 336.7" fill="none" stroke="#2b2b2b" stroke-width="1" stroke-linejoin="round" />
<g transform="translate(374.5 326.1)" >
<path d="M-34.8 -11.2 L-43.2 -10 M-34.8 11.2 L-43.2 10" fill="none" stroke="#2b2b2b" stroke-width="1.15" stroke-linejoin="round" />
<line x1="-41" y1="-10.3" x2="-41" y2="10.3" stroke="#666" stroke-width="0.5"/>
<path d="M-34.8 17 V-13 Q-34.8 -15.6 -32 -15.6 H-16 L-14.5 -16.3 H-1.2 Q0 -16.3 0 -15 V24 Q0 26.1 -2 26.1 H-18.5 Q-20.8 26.1 -20.8 24 V19.2 H-33 L-34.8 17" fill="none" stroke="#2b2b2b" stroke-width="1.3" stroke-linejoin="round" />
<path d="M-34.8 -11.5 H-24 L-20.8 -8.5 V19.2" fill="none" stroke="#2b2b2b" stroke-width="0.9" stroke-linejoin="round" />
<line x1="-34.8" y1="-9.6" x2="-21.5" y2="-9.6" stroke="#2a2a2a" stroke-width="1"/>
<line x1="-34.8" y1="-5.9" x2="-21.5" y2="-5.9" stroke="#2a2a2a" stroke-width="1"/>
<line x1="-34.8" y1="6.4" x2="-21.5" y2="6.4" stroke="#2a2a2a" stroke-width="1"/>
<line x1="-34.8" y1="11.7" x2="-21.5" y2="11.7" stroke="#2a2a2a" stroke-width="1"/>
<line x1="-34.8" y1="0.4" x2="-21.5" y2="0.4" stroke="#777" stroke-width="0.5"/>
<line x1="-32" y1="-11.5" x2="-32" y2="15.5" stroke="#666" stroke-width="0.6"/>
<line x1="-24" y1="-8.5" x2="-24" y2="19.2" stroke="#666" stroke-width="0.6"/>
<line x1="-33" y1="-13.6" x2="-17" y2="-13.6" stroke="#555" stroke-width="0.6"/>
<line x1="-17" y1="-15.6" x2="-15.8" y2="-11.5" stroke="#555" stroke-width="0.7"/>
<path d="M-29.5 0 L-27.8 -1.8 L-26.1 0 L-27.8 1.8 Z" fill="#666" stroke="#222" stroke-width="0.6" stroke-linejoin="round" />
<line x1="-30.5" y1="0.4" x2="-25" y2="0.4" stroke="#555" stroke-width="0.5"/>
<line x1="-28" y1="-2.8" x2="-28" y2="2.8" stroke="#555" stroke-width="0.5"/>
<line x1="-14" y1="-16" x2="-14" y2="26.1" stroke="#333" stroke-width="1"/>
<line x1="-11" y1="-16" x2="-11" y2="26.1" stroke="#555" stroke-width="1"/>
<line x1="-6" y1="-16" x2="-6" y2="26.1" stroke="#333" stroke-width="1"/>
<line x1="-3" y1="-16" x2="-3" y2="26.1" stroke="#555" stroke-width="1"/>
<line x1="-2" y1="-16" x2="-2" y2="26.1" stroke="#777" stroke-width="0.5"/>
<line x1="-20.8" y1="-8.6" x2="-14.4" y2="-8.6" stroke="#666" stroke-width="0.5"/>
<line x1="-3" y1="2.5" x2="-3" y2="3.3" stroke="#222" stroke-width="1"/>
<line x1="-3" y1="5.3" x2="-3" y2="6.1" stroke="#222" stroke-width="1"/>
</g>
<g transform="translate(374.5 326.5)" >
<path d="M0 -11.4 H4.8 M0 11.4 H4.8" fill="none" stroke="#2b2b2b" stroke-width="1.1" stroke-linejoin="round" />
<line x1="2" y1="-11.4" x2="2" y2="11.4" stroke="#666" stroke-width="0.6"/>
<path d="M9.6 -16 H7 Q4.8 -16 4.8 -13.5 V13.5 Q4.8 16 7 16 H9.6" fill="none" stroke="#2b2b2b" stroke-width="1.1" stroke-linejoin="round" />
<line x1="10" y1="-16" x2="10" y2="16" stroke="#2b2b2b" stroke-width="1"/>
<circle cx="8" cy="0.2" r="1.2" fill="none" stroke="#2b2b2b" stroke-width="0.7"/>
<circle cx="7.4" cy="-14" r="0.8" fill="none" stroke="#2b2b2b" stroke-width="0.5"/>
<circle cx="7.4" cy="14" r="0.8" fill="none" stroke="#2b2b2b" stroke-width="0.5"/>
<path d="M9.6 -16 H45.3 M9.6 16 H45.3" fill="none" stroke="#2b2b2b" stroke-width="1.3" stroke-linejoin="round" />
<line x1="9.6" y1="-14" x2="45.3" y2="-14" stroke="#444" stroke-width="1"/>
<line x1="9.6" y1="14" x2="45.3" y2="14" stroke="#444" stroke-width="1"/>
<line x1="11" y1="-10" x2="44.5" y2="-10" stroke="#333" stroke-width="1"/>
<line x1="11" y1="-6" x2="44.5" y2="-6" stroke="#333" stroke-width="1"/>
<line x1="11" y1="-4" x2="44.5" y2="-4" stroke="#333" stroke-width="1"/>
<line x1="11" y1="4" x2="44.5" y2="4" stroke="#333" stroke-width="1"/>
<line x1="11" y1="6" x2="44.5" y2="6" stroke="#333" stroke-width="1"/>
<line x1="11" y1="10" x2="44.5" y2="10" stroke="#333" stroke-width="1"/>
<line x1="11" y1="-9.6" x2="11" y2="9.6" stroke="#444" stroke-width="1"/>
<rect x="12.8" y="-9.6" width="16" height="3.7" rx="1.6" fill="none" stroke="#2b2b2b" stroke-width="0.9"/>
<rect x="12.8" y="5.9" width="16" height="3.7" rx="1.6" fill="none" stroke="#2b2b2b" stroke-width="0.9"/>
<line x1="31" y1="-11.5" x2="31" y2="11.5" stroke="#555" stroke-width="1"/>
<line x1="29" y1="-3.7" x2="29" y2="3.7" stroke="#555" stroke-width="1"/>
<rect x="32.5" y="-1.8" width="10.7" height="3.4" rx="0" fill="none" stroke="#2b2b2b" stroke-width="0.8"/>
<rect x="36" y="-1" width="3" height="1.9" rx="0" fill="#444" stroke="#2b2b2b" stroke-width="0.6"/>
<line x1="34" y1="-9.6" x2="34" y2="9.6" stroke="#777" stroke-width="0.5"/>
<path d="M45.3 -16.9 H59.5 Q65.6 -16.9 65.6 -11 V11 Q65.6 16.9 59.5 16.9 H45.3 Z" fill="none" stroke="#2b2b2b" stroke-width="1.3" stroke-linejoin="round" />
<line x1="48" y1="-16.9" x2="48" y2="16.9" stroke="#555" stroke-width="0.6"/>
<line x1="59" y1="-16.9" x2="59" y2="16.9" stroke="#444" stroke-width="1"/>
<line x1="45.3" y1="-14" x2="59.2" y2="-14" stroke="#777" stroke-width="0.5"/>
<line x1="45.3" y1="14" x2="59.2" y2="14" stroke="#777" stroke-width="0.5"/>
</g>
<line x1="440.1" y1="309.5" x2="458.9" y2="309.5" stroke="#555" stroke-width="1"/>
<line x1="440.1" y1="343.5" x2="458.9" y2="343.5" stroke="#555" stroke-width="1"/>
<line x1="456.5" y1="309.7" x2="456.5" y2="343.5" stroke="#555" stroke-width="1"/>
<path d="M456.5 309.7 L458 316.9 L455 316.9 Z" fill="#1c1c1c"/>
<path d="M456.5 343.5 L455 336.3 L458 336.3 Z" fill="#1c1c1c"/>
<text transform="translate(454.4 326.6) rotate(-90) scale(1.17 1)" font-size="9.2" text-anchor="middle" >AC</text>
<text transform="translate(270 358.4) scale(1.15 1)" font-size="9.5" text-anchor="start" >M6<tspan font-size="9.3">深</tspan>15</text>
<line x1="267" y1="359.5" x2="310.4" y2="359.5" stroke="#555" stroke-width="1"/>
<text transform="translate(266.2 369.4) scale(1.15 1)" font-size="9.5" text-anchor="start" >GB/T 145</text>
<text transform="translate(266.2 381.1) scale(1.15 1)" font-size="9.5" text-anchor="start" >DIN 332</text>
<line x1="595.7" y1="294.5" x2="628.7" y2="294.5" stroke="#555" stroke-width="1"/>
<path d="M595.7 294.5 L602.9 293 L602.9 296 Z" fill="#1c1c1c"/>
<path d="M628.7 294.5 L621.5 296 L621.5 293 Z" fill="#1c1c1c"/>
<text transform="translate(612.6 292.7) scale(1.17 1)" font-size="9.2" text-anchor="middle" >AD</text>
<line x1="595.5" y1="292.2" x2="595.5" y2="353" stroke="#555" stroke-width="1"/>
<line x1="628.5" y1="292.2" x2="628.5" y2="317.5" stroke="#555" stroke-width="1"/>
<g transform="translate(573.5 309.6)" >
<path d="M0 42.6 V9 L4.5 0 H39.5 L44 9 V42.6 Z" fill="none" stroke="#1e1e1e" stroke-width="1.5" stroke-linejoin="round" />
<path d="M3.6 36 V10 L6.8 2.6 H37.2 L40.4 10 V36" fill="none" stroke="#444" stroke-width="0.8" stroke-linejoin="round" />
<line x1="3.6" y1="35.9" x2="40.4" y2="35.9" stroke="#333" stroke-width="1"/>
<line x1="0" y1="37.9" x2="44" y2="37.9" stroke="#777" stroke-width="0.5"/>
<line x1="3.6" y1="8.9" x2="5.2" y2="8.9" stroke="#444" stroke-width="1"/>
<line x1="38.8" y1="8.9" x2="40.4" y2="8.9" stroke="#444" stroke-width="1"/>
<line x1="3.6" y1="13.9" x2="5.2" y2="13.9" stroke="#444" stroke-width="1"/>
<line x1="38.8" y1="13.9" x2="40.4" y2="13.9" stroke="#444" stroke-width="1"/>
<line x1="3.6" y1="18.9" x2="5.2" y2="18.9" stroke="#444" stroke-width="1"/>
<line x1="38.8" y1="18.9" x2="40.4" y2="18.9" stroke="#444" stroke-width="1"/>
<line x1="3.6" y1="23.9" x2="5.2" y2="23.9" stroke="#444" stroke-width="1"/>
<line x1="38.8" y1="23.9" x2="40.4" y2="23.9" stroke="#444" stroke-width="1"/>
<line x1="3.6" y1="28.9" x2="5.2" y2="28.9" stroke="#444" stroke-width="1"/>
<line x1="38.8" y1="28.9" x2="40.4" y2="28.9" stroke="#444" stroke-width="1"/>
<line x1="6" y1="8" x2="6" y2="34" stroke="#777" stroke-width="0.5"/>
<line x1="38" y1="8" x2="38" y2="34" stroke="#777" stroke-width="0.5"/>
</g>
<circle cx="595.5" cy="326.2" r="15.7" fill="#fff" stroke="#1e1e1e" stroke-width="1.4"/>
<circle cx="595.5" cy="326.2" r="13.5" fill="none" stroke="#555" stroke-width="0.6" stroke-dasharray="2.5 1.5"/>
<circle cx="595.5" cy="326.2" r="11.62" fill="none" stroke="#2b2b2b" stroke-width="1.1"/>
<circle cx="595.5" cy="326.2" r="10.42" fill="none" stroke="#777" stroke-width="0.5"/>
<circle cx="595.5" cy="326.2" r="4.4" fill="none" stroke="#2b2b2b" stroke-width="1.2"/>
<circle cx="595.5" cy="326.2" r="2.3" fill="none" stroke="#2b2b2b" stroke-width="1"/>
<circle cx="605.05" cy="335.75" r="1" fill="#555" stroke="#222" stroke-width="0.6"/>
<circle cx="585.95" cy="335.75" r="1" fill="#555" stroke="#222" stroke-width="0.6"/>
<circle cx="585.95" cy="316.65" r="1" fill="#555" stroke="#222" stroke-width="0.6"/>
<circle cx="605.05" cy="316.65" r="1" fill="#555" stroke="#222" stroke-width="0.6"/>
<line x1="578.3" y1="326.5" x2="612.7" y2="326.5" stroke="#555" stroke-width="0.5" stroke-dasharray="6 1.5 1.5 1.5"/>
<line x1="595.5" y1="309" x2="595.5" y2="343.4" stroke="#555" stroke-width="0.5" stroke-dasharray="6 1.5 1.5 1.5"/>
<path d="M617.5 317.6 H624 Q627.8 317.6 627.8 321.6 V331.6 Q627.8 335.6 624 335.6 H617.5" fill="none" stroke="#2b2b2b" stroke-width="1.2" stroke-linejoin="round" />
<line x1="619.5" y1="317.6" x2="619.5" y2="335.6" stroke="#444" stroke-width="1"/>
<line x1="620.5" y1="317.6" x2="620.5" y2="335.6" stroke="#777" stroke-width="0.5"/>
<line x1="554.7" y1="326.5" x2="574" y2="326.5" stroke="#555" stroke-width="1"/>
<line x1="554.7" y1="352.5" x2="574" y2="352.5" stroke="#555" stroke-width="1"/>
<line x1="557.5" y1="326" x2="557.5" y2="352" stroke="#555" stroke-width="1"/>
<path d="M557.5 326 L559 333.2 L556 333.2 Z" fill="#1c1c1c"/>
<path d="M557.5 352 L556 344.8 L559 344.8 Z" fill="#1c1c1c"/>
<text transform="translate(555.2 338.7) rotate(-90) scale(1.17 1)" font-size="9.2" text-anchor="middle" >76.5</text>
<line x1="573.5" y1="372.5" x2="617.5" y2="372.5" stroke="#555" stroke-width="1"/>
<path d="M573.5 372.5 L580.7 371 L580.7 374 Z" fill="#1c1c1c"/>
<path d="M617.5 372.5 L610.3 374 L610.3 371 Z" fill="#1c1c1c"/>
<text transform="translate(595.4 369.2) scale(1.17 1)" font-size="9.2" text-anchor="middle" >140</text>
<line x1="573.5" y1="352" x2="573.5" y2="373.5" stroke="#555" stroke-width="1"/>
<line x1="617.5" y1="352" x2="617.5" y2="373.5" stroke="#555" stroke-width="1"/>
<!-- s_flanges -->
<text x="109" y="399.4" font-size="12.6" text-anchor="start" >Ø120</text>
<line x1="161" y1="409.5" x2="202.3" y2="409.5" stroke="#555" stroke-width="1"/>
<path d="M184 409.5 L176.8 411 L176.8 408 Z" fill="#1c1c1c"/>
<path d="M187.7 409.5 L194.9 408 L194.9 411 Z" fill="#1c1c1c"/>
<text transform="translate(165 406.7) scale(1.17 1)" font-size="9.2" text-anchor="middle" >8</text>
<line x1="160.3" y1="424.5" x2="199" y2="424.5" stroke="#555" stroke-width="1"/>
<path d="M183.1 424.5 L175.9 426 L175.9 423 Z" fill="#1c1c1c"/>
<path d="M186.4 424.5 L193.6 423 L193.6 426 Z" fill="#1c1c1c"/>
<text transform="translate(164.6 421.2) scale(1.17 1)" font-size="9.2" text-anchor="middle" >3</text>
<line x1="184.5" y1="406.8" x2="184.5" y2="433.2" stroke="#555" stroke-width="1"/>
<line x1="187.5" y1="406.8" x2="187.5" y2="433.2" stroke="#555" stroke-width="1"/>
<line x1="186.5" y1="422" x2="186.5" y2="433.2" stroke="#555" stroke-width="0.6"/>
<line x1="144.8" y1="433.5" x2="184" y2="433.5" stroke="#555" stroke-width="1"/>
<line x1="144.8" y1="466.5" x2="184" y2="466.5" stroke="#555" stroke-width="1"/>
<line x1="147.5" y1="433.2" x2="147.5" y2="466.6" stroke="#555" stroke-width="1"/>
<path d="M147.5 433.2 L149 440.4 L146 440.4 Z" fill="#1c1c1c"/>
<path d="M147.5 466.6 L146 459.4 L149 459.4 Z" fill="#1c1c1c"/>
<text transform="translate(145 450.2) rotate(-90) scale(1.17 1)" font-size="9.2" text-anchor="middle" >Ø120</text>
<line x1="161.6" y1="438.5" x2="184" y2="438.5" stroke="#555" stroke-width="1"/>
<line x1="161.6" y1="461.5" x2="184" y2="461.5" stroke="#555" stroke-width="1"/>
<line x1="164.5" y1="438.8" x2="164.5" y2="461" stroke="#555" stroke-width="1"/>
<path d="M164.5 438.8 L166 446 L163 446 Z" fill="#1c1c1c"/>
<path d="M164.5 461 L163 453.8 L166 453.8 Z" fill="#1c1c1c"/>
<text transform="translate(158.8 450.7) rotate(-90) scale(1.17 1)" font-size="9.2" text-anchor="middle" >Ø80<tspan font-size="6.6" dy="1.5">j6</tspan></text>
<path d="M184 446.3 H171 L170 447.3 V452.5 L171 453.5 H184" fill="none" stroke="#2b2b2b" stroke-width="1.15" stroke-linejoin="round" />
<line x1="171.5" y1="446.3" x2="171.5" y2="453.5" stroke="#555" stroke-width="0.6"/>
<path d="M184 433.2 H188.3 V437.2 Q187.1 438.7 188.3 440.2 V459.6 Q187.1 461.1 188.3 462.6 V466.6 H184 V462.6 Q185.2 461.1 184 459.6 V440.2 Q185.2 438.7 184 437.2 Z" fill="none" stroke="#2b2b2b" stroke-width="1.2" stroke-linejoin="round" />
<path d="M188.3 440.7 Q189.8 438.4 195.2 439.1" fill="none" stroke="#2b2b2b" stroke-width="1" stroke-linejoin="round" />
<path d="M188.3 459.1 Q189.8 461.4 195.2 460.7" fill="none" stroke="#2b2b2b" stroke-width="1" stroke-linejoin="round" />
<g transform="translate(230 449.9)" >
<path d="M-34.8 -11.2 L-43.2 -10 M-34.8 11.2 L-43.2 10" fill="none" stroke="#2b2b2b" stroke-width="1.15" stroke-linejoin="round" />
<line x1="-40.5" y1="-10.3" x2="-40.5" y2="10.3" stroke="#666" stroke-width="0.5"/>
<path d="M-34.8 17 V-13 Q-34.8 -15.6 -32 -15.6 H-16 L-14.5 -16.3 H-1.2 Q0 -16.3 0 -15 V24 Q0 26.1 -2 26.1 H-18.5 Q-20.8 26.1 -20.8 24 V19.2 H-33 L-34.8 17" fill="none" stroke="#2b2b2b" stroke-width="1.3" stroke-linejoin="round" />
<path d="M-34.8 -11.5 H-24 L-20.8 -8.5 V19.2" fill="none" stroke="#2b2b2b" stroke-width="0.9" stroke-linejoin="round" />
<line x1="-34.8" y1="-9.6" x2="-21.5" y2="-9.6" stroke="#2a2a2a" stroke-width="1"/>
<line x1="-34.8" y1="-5.9" x2="-21.5" y2="-5.9" stroke="#2a2a2a" stroke-width="1"/>
<line x1="-34.8" y1="6.4" x2="-21.5" y2="6.4" stroke="#2a2a2a" stroke-width="1"/>
<line x1="-34.8" y1="11.7" x2="-21.5" y2="11.7" stroke="#2a2a2a" stroke-width="1"/>
<line x1="-34.8" y1="-0.4" x2="-21.5" y2="-0.4" stroke="#777" stroke-width="0.5"/>
<line x1="-31.5" y1="-11.5" x2="-31.5" y2="15.5" stroke="#666" stroke-width="0.6"/>
<line x1="-24.5" y1="-8.5" x2="-24.5" y2="19.2" stroke="#666" stroke-width="0.6"/>
<line x1="-33" y1="-13.4" x2="-17" y2="-13.4" stroke="#555" stroke-width="0.6"/>
<line x1="-17" y1="-15.6" x2="-15.8" y2="-11.5" stroke="#555" stroke-width="0.7"/>
<path d="M-29.5 0 L-27.8 -1.8 L-26.1 0 L-27.8 1.8 Z" fill="#666" stroke="#222" stroke-width="0.6" stroke-linejoin="round" />
<line x1="-30.5" y1="-0.4" x2="-25" y2="-0.4" stroke="#555" stroke-width="0.5"/>
<line x1="-27.5" y1="-2.8" x2="-27.5" y2="2.8" stroke="#555" stroke-width="0.5"/>
<line x1="-14.5" y1="-16" x2="-14.5" y2="26.1" stroke="#333" stroke-width="1"/>
<line x1="-11.5" y1="-16" x2="-11.5" y2="26.1" stroke="#555" stroke-width="1"/>
<line x1="-5.5" y1="-16" x2="-5.5" y2="26.1" stroke="#333" stroke-width="1"/>
<line x1="-3.5" y1="-16" x2="-3.5" y2="26.1" stroke="#555" stroke-width="1"/>
<line x1="-2.5" y1="-16" x2="-2.5" y2="26.1" stroke="#777" stroke-width="0.5"/>
<line x1="-20.8" y1="-8.4" x2="-14.4" y2="-8.4" stroke="#666" stroke-width="0.5"/>
<line x1="-2.5" y1="2.5" x2="-2.5" y2="3.3" stroke="#222" stroke-width="1"/>
<line x1="-2.5" y1="5.3" x2="-2.5" y2="6.1" stroke="#222" stroke-width="1"/>
</g>
<line x1="168" y1="449.5" x2="220" y2="449.5" stroke="#555" stroke-width="0.5" stroke-dasharray="7 2 2 2"/>
<g transform="translate(284 434.1)" >
<path d="M0 42.6 V9 L4.5 0 H39.5 L44 9 V42.6 Z" fill="none" stroke="#1e1e1e" stroke-width="1.5" stroke-linejoin="round" />
<path d="M3.6 36 V10 L6.8 2.6 H37.2 L40.4 10 V36" fill="none" stroke="#444" stroke-width="0.8" stroke-linejoin="round" />
<line x1="3.6" y1="36.4" x2="40.4" y2="36.4" stroke="#333" stroke-width="1"/>
<line x1="0" y1="38.4" x2="44" y2="38.4" stroke="#777" stroke-width="0.5"/>
<line x1="3.6" y1="9.4" x2="5.2" y2="9.4" stroke="#444" stroke-width="1"/>
<line x1="38.8" y1="9.4" x2="40.4" y2="9.4" stroke="#444" stroke-width="1"/>
<line x1="3.6" y1="14.4" x2="5.2" y2="14.4" stroke="#444" stroke-width="1"/>
<line x1="38.8" y1="14.4" x2="40.4" y2="14.4" stroke="#444" stroke-width="1"/>
<line x1="3.6" y1="19.4" x2="5.2" y2="19.4" stroke="#444" stroke-width="1"/>
<line x1="38.8" y1="19.4" x2="40.4" y2="19.4" stroke="#444" stroke-width="1"/>
<line x1="3.6" y1="24.4" x2="5.2" y2="24.4" stroke="#444" stroke-width="1"/>
<line x1="38.8" y1="24.4" x2="40.4" y2="24.4" stroke="#444" stroke-width="1"/>
<line x1="3.6" y1="29.4" x2="5.2" y2="29.4" stroke="#444" stroke-width="1"/>
<line x1="38.8" y1="29.4" x2="40.4" y2="29.4" stroke="#444" stroke-width="1"/>
<line x1="5.5" y1="8" x2="5.5" y2="34" stroke="#777" stroke-width="0.5"/>
<line x1="38.5" y1="8" x2="38.5" y2="34" stroke="#777" stroke-width="0.5"/>
</g>
<circle cx="306" cy="450.7" r="17.5" fill="#fff" stroke="#1e1e1e" stroke-width="1.4"/>
<circle cx="306" cy="450.7" r="15.3" fill="none" stroke="#555" stroke-width="0.6" stroke-dasharray="2.5 1.5"/>
<circle cx="306" cy="450.7" r="12.95" fill="none" stroke="#2b2b2b" stroke-width="1.1"/>
<circle cx="306" cy="450.7" r="11.75" fill="none" stroke="#777" stroke-width="0.5"/>
<circle cx="306" cy="450.7" r="4.4" fill="none" stroke="#2b2b2b" stroke-width="1.2"/>
<circle cx="306" cy="450.7" r="2.3" fill="none" stroke="#2b2b2b" stroke-width="1"/>
<circle cx="316.82" cy="461.52" r="1" fill="#555" stroke="#222" stroke-width="0.6"/>
<circle cx="295.18" cy="461.52" r="1" fill="#555" stroke="#222" stroke-width="0.6"/>
<circle cx="295.18" cy="439.88" r="1" fill="#555" stroke="#222" stroke-width="0.6"/>
<circle cx="316.82" cy="439.88" r="1" fill="#555" stroke="#222" stroke-width="0.6"/>
<line x1="287" y1="450.5" x2="325" y2="450.5" stroke="#555" stroke-width="0.5" stroke-dasharray="6 1.5 1.5 1.5"/>
<line x1="306.5" y1="431.7" x2="306.5" y2="469.7" stroke="#555" stroke-width="0.5" stroke-dasharray="6 1.5 1.5 1.5"/>
<text transform="translate(314.5 416.2) scale(1.17 1)" font-size="9.2" text-anchor="start" >4-Ø6.5</text>
<line x1="279.5" y1="418.5" x2="346.2" y2="418.5" stroke="#555" stroke-width="1"/>
<path d="M294.2 418.5 L287 420 L287 417 Z" fill="#1c1c1c"/>
<path d="M297.5 418.5 L304.7 417 L304.7 420 Z" fill="#1c1c1c"/>
<line x1="295.85" y1="419.3" x2="295.85" y2="435.1" stroke="#c4c4c4" stroke-width="2.3"/>
<line x1="294.5" y1="416.8" x2="294.5" y2="435.1" stroke="#555" stroke-width="1"/>
<line x1="297.5" y1="416.8" x2="297.5" y2="435.1" stroke="#555" stroke-width="1"/>
<line x1="255.3" y1="425.7" x2="333" y2="463.4" stroke="#222" stroke-width="0.9"/>
<text transform="translate(269 430.2) rotate(26) scale(1.17 1)" font-size="9.2" text-anchor="middle" >Ø100</text>
<text x="399" y="399.2" font-size="12.6" text-anchor="start" >Ø140</text>
<line x1="447.7" y1="409.5" x2="489.7" y2="409.5" stroke="#555" stroke-width="1"/>
<path d="M471.2 409.5 L464 411 L464 408 Z" fill="#1c1c1c"/>
<path d="M475.2 409.5 L482.4 408 L482.4 411 Z" fill="#1c1c1c"/>
<text transform="translate(451.7 406.7) scale(1.17 1)" font-size="9.2" text-anchor="middle" >9</text>
<line x1="447" y1="422.5" x2="487" y2="422.5" stroke="#555" stroke-width="1"/>
<path d="M470.3 422.5 L463.1 424 L463.1 421 Z" fill="#1c1c1c"/>
<path d="M473.9 422.5 L481.1 421 L481.1 424 Z" fill="#1c1c1c"/>
<text transform="translate(451.7 419.6) scale(1.17 1)" font-size="9.2" text-anchor="middle" >3</text>
<line x1="471.5" y1="406.8" x2="471.5" y2="430.4" stroke="#555" stroke-width="1"/>
<line x1="475.5" y1="406.8" x2="475.5" y2="430.4" stroke="#555" stroke-width="1"/>
<line x1="473.5" y1="420.4" x2="473.5" y2="430.4" stroke="#555" stroke-width="0.6"/>
<line x1="433.8" y1="430.5" x2="471.2" y2="430.5" stroke="#555" stroke-width="1"/>
<line x1="433.8" y1="469.5" x2="471.2" y2="469.5" stroke="#555" stroke-width="1"/>
<line x1="436.5" y1="430.4" x2="436.5" y2="469.8" stroke="#555" stroke-width="1"/>
<path d="M436.5 430.4 L438 437.6 L435 437.6 Z" fill="#1c1c1c"/>
<path d="M436.5 469.8 L435 462.6 L438 462.6 Z" fill="#1c1c1c"/>
<text transform="translate(434 450.4) rotate(-90) scale(1.17 1)" font-size="9.2" text-anchor="middle" >Ø140</text>
<line x1="450.5" y1="437.5" x2="471.2" y2="437.5" stroke="#555" stroke-width="1"/>
<line x1="450.5" y1="463.5" x2="471.2" y2="463.5" stroke="#555" stroke-width="1"/>
<line x1="453.5" y1="437.1" x2="453.5" y2="463.1" stroke="#555" stroke-width="1"/>
<path d="M453.5 437.1 L455 444.3 L452 444.3 Z" fill="#1c1c1c"/>
<path d="M453.5 463.1 L452 455.9 L455 455.9 Z" fill="#1c1c1c"/>
<text transform="translate(447.7 450.9) rotate(-90) scale(1.17 1)" font-size="9.2" text-anchor="middle" >Ø95<tspan font-size="6.6" dy="1.5">j6</tspan></text>
<path d="M471.2 446.5 H458.2 L457.2 447.5 V452.7 L458.2 453.7 H471.2" fill="none" stroke="#2b2b2b" stroke-width="1.15" stroke-linejoin="round" />
<line x1="458.5" y1="446.5" x2="458.5" y2="453.7" stroke="#555" stroke-width="0.6"/>
<path d="M471.2 430.4 H475.8 V434.4 Q474.6 435.9 475.8 437.4 V462.8 Q474.6 464.3 475.8 465.8 V469.8 H471.2 V465.8 Q472.4 464.3 471.2 462.8 V437.4 Q472.4 435.9 471.2 434.4 Z" fill="none" stroke="#2b2b2b" stroke-width="1.2" stroke-linejoin="round" />
<path d="M475.8 437.9 Q477.3 438.6 482.6 439.3" fill="none" stroke="#2b2b2b" stroke-width="1" stroke-linejoin="round" />
<path d="M475.8 462.3 Q477.3 461.6 482.6 460.9" fill="none" stroke="#2b2b2b" stroke-width="1" stroke-linejoin="round" />
<g transform="translate(517.4 450.1)" >
<path d="M-34.8 -11.2 L-43.2 -10 M-34.8 11.2 L-43.2 10" fill="none" stroke="#2b2b2b" stroke-width="1.15" stroke-linejoin="round" />
<line x1="-40.9" y1="-10.3" x2="-40.9" y2="10.3" stroke="#666" stroke-width="0.5"/>
<path d="M-34.8 17 V-13 Q-34.8 -15.6 -32 -15.6 H-16 L-14.5 -16.3 H-1.2 Q0 -16.3 0 -15 V24 Q0 26.1 -2 26.1 H-18.5 Q-20.8 26.1 -20.8 24 V19.2 H-33 L-34.8 17" fill="none" stroke="#2b2b2b" stroke-width="1.3" stroke-linejoin="round" />
<path d="M-34.8 -11.5 H-24 L-20.8 -8.5 V19.2" fill="none" stroke="#2b2b2b" stroke-width="0.9" stroke-linejoin="round" />
<line x1="-34.8" y1="-9.6" x2="-21.5" y2="-9.6" stroke="#2a2a2a" stroke-width="1"/>
<line x1="-34.8" y1="-5.9" x2="-21.5" y2="-5.9" stroke="#2a2a2a" stroke-width="1"/>
<line x1="-34.8" y1="6.4" x2="-21.5" y2="6.4" stroke="#2a2a2a" stroke-width="1"/>
<line x1="-34.8" y1="11.7" x2="-21.5" y2="11.7" stroke="#2a2a2a" stroke-width="1"/>
<line x1="-34.8" y1="0.4" x2="-21.5" y2="0.4" stroke="#777" stroke-width="0.5"/>
<line x1="-31.9" y1="-11.5" x2="-31.9" y2="15.5" stroke="#666" stroke-width="0.6"/>
<line x1="-23.9" y1="-8.5" x2="-23.9" y2="19.2" stroke="#666" stroke-width="0.6"/>
<line x1="-33" y1="-13.6" x2="-17" y2="-13.6" stroke="#555" stroke-width="0.6"/>
<line x1="-17" y1="-15.6" x2="-15.8" y2="-11.5" stroke="#555" stroke-width="0.7"/>
<path d="M-29.5 0 L-27.8 -1.8 L-26.1 0 L-27.8 1.8 Z" fill="#666" stroke="#222" stroke-width="0.6" stroke-linejoin="round" />
<line x1="-30.5" y1="0.4" x2="-25" y2="0.4" stroke="#555" stroke-width="0.5"/>
<line x1="-27.9" y1="-2.8" x2="-27.9" y2="2.8" stroke="#555" stroke-width="0.5"/>
<line x1="-13.9" y1="-16" x2="-13.9" y2="26.1" stroke="#333" stroke-width="1"/>
<line x1="-10.9" y1="-16" x2="-10.9" y2="26.1" stroke="#555" stroke-width="1"/>
<line x1="-5.9" y1="-16" x2="-5.9" y2="26.1" stroke="#333" stroke-width="1"/>
<line x1="-2.9" y1="-16" x2="-2.9" y2="26.1" stroke="#555" stroke-width="1"/>
<line x1="-1.9" y1="-16" x2="-1.9" y2="26.1" stroke="#777" stroke-width="0.5"/>
<line x1="-20.8" y1="-8.6" x2="-14.4" y2="-8.6" stroke="#666" stroke-width="0.5"/>
<line x1="-2.9" y1="2.5" x2="-2.9" y2="3.3" stroke="#222" stroke-width="1"/>
<line x1="-2.9" y1="5.3" x2="-2.9" y2="6.1" stroke="#222" stroke-width="1"/>
</g>
<line x1="455.2" y1="450.5" x2="507.4" y2="450.5" stroke="#555" stroke-width="0.5" stroke-dasharray="7 2 2 2"/>
<g transform="translate(573.8 434.1)" >
<path d="M0 42.6 V9 L4.5 0 H39.5 L44 9 V42.6 Z" fill="none" stroke="#1e1e1e" stroke-width="1.5" stroke-linejoin="round" />
<path d="M3.6 36 V10 L6.8 2.6 H37.2 L40.4 10 V36" fill="none" stroke="#444" stroke-width="0.8" stroke-linejoin="round" />
<line x1="3.6" y1="36.4" x2="40.4" y2="36.4" stroke="#333" stroke-width="1"/>
<line x1="0" y1="38.4" x2="44" y2="38.4" stroke="#777" stroke-width="0.5"/>
<line x1="3.6" y1="9.4" x2="5.2" y2="9.4" stroke="#444" stroke-width="1"/>
<line x1="38.8" y1="9.4" x2="40.4" y2="9.4" stroke="#444" stroke-width="1"/>
<line x1="3.6" y1="14.4" x2="5.2" y2="14.4" stroke="#444" stroke-width="1"/>
<line x1="38.8" y1="14.4" x2="40.4" y2="14.4" stroke="#444" stroke-width="1"/>
<line x1="3.6" y1="19.4" x2="5.2" y2="19.4" stroke="#444" stroke-width="1"/>
<line x1="38.8" y1="19.4" x2="40.4" y2="19.4" stroke="#444" stroke-width="1"/>
<line x1="3.6" y1="24.4" x2="5.2" y2="24.4" stroke="#444" stroke-width="1"/>
<line x1="38.8" y1="24.4" x2="40.4" y2="24.4" stroke="#444" stroke-width="1"/>
<line x1="3.6" y1="29.4" x2="5.2" y2="29.4" stroke="#444" stroke-width="1"/>
<line x1="38.8" y1="29.4" x2="40.4" y2="29.4" stroke="#444" stroke-width="1"/>
<line x1="5.7" y1="8" x2="5.7" y2="34" stroke="#777" stroke-width="0.5"/>
<line x1="38.7" y1="8" x2="38.7" y2="34" stroke="#777" stroke-width="0.5"/>
</g>
<circle cx="595.8" cy="450.7" r="21.6" fill="#fff" stroke="#1e1e1e" stroke-width="1.4"/>
<circle cx="595.8" cy="450.7" r="19.4" fill="none" stroke="#555" stroke-width="0.6" stroke-dasharray="2.5 1.5"/>
<circle cx="595.8" cy="450.7" r="15.98" fill="none" stroke="#2b2b2b" stroke-width="1.1"/>
<circle cx="595.8" cy="450.7" r="14.78" fill="none" stroke="#777" stroke-width="0.5"/>
<circle cx="595.8" cy="450.7" r="4.4" fill="none" stroke="#2b2b2b" stroke-width="1.2"/>
<circle cx="595.8" cy="450.7" r="2.3" fill="none" stroke="#2b2b2b" stroke-width="1"/>
<circle cx="609.52" cy="464.42" r="1" fill="#555" stroke="#222" stroke-width="0.6"/>
<circle cx="582.08" cy="464.42" r="1" fill="#555" stroke="#222" stroke-width="0.6"/>
<circle cx="582.08" cy="436.98" r="1" fill="#555" stroke="#222" stroke-width="0.6"/>
<circle cx="609.52" cy="436.98" r="1" fill="#555" stroke="#222" stroke-width="0.6"/>
<line x1="572.7" y1="450.5" x2="618.9" y2="450.5" stroke="#555" stroke-width="0.5" stroke-dasharray="6 1.5 1.5 1.5"/>
<line x1="595.5" y1="427.6" x2="595.5" y2="473.8" stroke="#555" stroke-width="0.5" stroke-dasharray="6 1.5 1.5 1.5"/>
<text transform="translate(601.6 416) scale(1.17 1)" font-size="9.2" text-anchor="start" >4-Ø8.5</text>
<line x1="567.3" y1="418.5" x2="634.7" y2="418.5" stroke="#555" stroke-width="1"/>
<path d="M581.9 418.5 L574.7 420 L574.7 417 Z" fill="#1c1c1c"/>
<path d="M585.5 418.5 L592.7 417 L592.7 420 Z" fill="#1c1c1c"/>
<line x1="583.7" y1="419.3" x2="583.7" y2="435.1" stroke="#c4c4c4" stroke-width="2.6"/>
<line x1="581.5" y1="416.8" x2="581.5" y2="435.1" stroke="#555" stroke-width="1"/>
<line x1="585.5" y1="416.8" x2="585.5" y2="435.1" stroke="#555" stroke-width="1"/>
<line x1="541.6" y1="426.1" x2="624.2" y2="463.4" stroke="#222" stroke-width="0.9"/>
<text transform="translate(556 430.6) rotate(24.3) scale(1.17 1)" font-size="9.2" text-anchor="middle" >Ø115</text>
<text x="109" y="494" font-size="12.6" text-anchor="start" >Ø160</text>
<line x1="156.3" y1="506.5" x2="202.3" y2="506.5" stroke="#555" stroke-width="1"/>
<path d="M184 506.5 L176.8 508 L176.8 505 Z" fill="#1c1c1c"/>
<path d="M187.7 506.5 L194.9 505 L194.9 508 Z" fill="#1c1c1c"/>
<text transform="translate(162.3 504.1) scale(1.17 1)" font-size="9.2" text-anchor="middle" >10</text>
<line x1="151.7" y1="522.5" x2="199" y2="522.5" stroke="#555" stroke-width="1"/>
<path d="M183.1 522.5 L175.9 524 L175.9 521 Z" fill="#1c1c1c"/>
<path d="M186.4 522.5 L193.6 521 L193.6 524 Z" fill="#1c1c1c"/>
<text transform="translate(160.3 519.3) scale(1.17 1)" font-size="9.2" text-anchor="middle" >3.5</text>
<line x1="184.5" y1="504.2" x2="184.5" y2="530.8" stroke="#555" stroke-width="1"/>
<line x1="187.5" y1="504.2" x2="187.5" y2="530.8" stroke="#555" stroke-width="1"/>
<line x1="186.5" y1="520.1" x2="186.5" y2="530.8" stroke="#555" stroke-width="0.6"/>
<line x1="145.2" y1="530.5" x2="184" y2="530.5" stroke="#555" stroke-width="1"/>
<line x1="145.2" y1="575.5" x2="184" y2="575.5" stroke="#555" stroke-width="1"/>
<line x1="147.5" y1="530.8" x2="147.5" y2="575.4" stroke="#555" stroke-width="1"/>
<path d="M147.5 530.8 L149 538 L146 538 Z" fill="#1c1c1c"/>
<path d="M147.5 575.4 L146 568.2 L149 568.2 Z" fill="#1c1c1c"/>
<text transform="translate(145.4 553.4) rotate(-90) scale(1.17 1)" font-size="9.2" text-anchor="middle" >Ø160</text>
<line x1="161.6" y1="537.5" x2="184" y2="537.5" stroke="#555" stroke-width="1"/>
<line x1="161.6" y1="568.5" x2="184" y2="568.5" stroke="#555" stroke-width="1"/>
<line x1="164.5" y1="537.9" x2="164.5" y2="568.3" stroke="#555" stroke-width="1"/>
<path d="M164.5 537.9 L166 545.1 L163 545.1 Z" fill="#1c1c1c"/>
<path d="M164.5 568.3 L163 561.1 L166 561.1 Z" fill="#1c1c1c"/>
<text transform="translate(158.8 553.9) rotate(-90) scale(1.17 1)" font-size="9.2" text-anchor="middle" >Ø110<tspan font-size="6.6" dy="1.5">j6</tspan></text>
<path d="M184 549.5 H171 L170 550.5 V555.7 L171 556.7 H184" fill="none" stroke="#2b2b2b" stroke-width="1.15" stroke-linejoin="round" />
<line x1="171.5" y1="549.5" x2="171.5" y2="556.7" stroke="#555" stroke-width="0.6"/>
<path d="M184 530.8 H188.3 V534.8 Q187.1 536.3 188.3 537.8 V568.4 Q187.1 569.9 188.3 571.4 V575.4 H184 V571.4 Q185.2 569.9 184 568.4 V537.8 Q185.2 536.3 184 534.8 Z" fill="none" stroke="#2b2b2b" stroke-width="1.2" stroke-linejoin="round" />
<path d="M188.3 538.3 Q189.8 541.6 195.2 542.3" fill="none" stroke="#2b2b2b" stroke-width="1" stroke-linejoin="round" />
<path d="M188.3 567.9 Q189.8 564.6 195.2 563.9" fill="none" stroke="#2b2b2b" stroke-width="1" stroke-linejoin="round" />
<g transform="translate(230 553.1)" >
<path d="M-34.8 -11.2 L-43.2 -10 M-34.8 11.2 L-43.2 10" fill="none" stroke="#2b2b2b" stroke-width="1.15" stroke-linejoin="round" />
<line x1="-40.5" y1="-10.3" x2="-40.5" y2="10.3" stroke="#666" stroke-width="0.5"/>
<path d="M-34.8 17 V-13 Q-34.8 -15.6 -32 -15.6 H-16 L-14.5 -16.3 H-1.2 Q0 -16.3 0 -15 V24 Q0 26.1 -2 26.1 H-18.5 Q-20.8 26.1 -20.8 24 V19.2 H-33 L-34.8 17" fill="none" stroke="#2b2b2b" stroke-width="1.3" stroke-linejoin="round" />
<path d="M-34.8 -11.5 H-24 L-20.8 -8.5 V19.2" fill="none" stroke="#2b2b2b" stroke-width="0.9" stroke-linejoin="round" />
<line x1="-34.8" y1="-9.6" x2="-21.5" y2="-9.6" stroke="#2a2a2a" stroke-width="1"/>
<line x1="-34.8" y1="-5.9" x2="-21.5" y2="-5.9" stroke="#2a2a2a" stroke-width="1"/>
<line x1="-34.8" y1="6.4" x2="-21.5" y2="6.4" stroke="#2a2a2a" stroke-width="1"/>
<line x1="-34.8" y1="11.7" x2="-21.5" y2="11.7" stroke="#2a2a2a" stroke-width="1"/>
<line x1="-34.8" y1="0.4" x2="-21.5" y2="0.4" stroke="#777" stroke-width="0.5"/>
<line x1="-31.5" y1="-11.5" x2="-31.5" y2="15.5" stroke="#666" stroke-width="0.6"/>
<line x1="-24.5" y1="-8.5" x2="-24.5" y2="19.2" stroke="#666" stroke-width="0.6"/>
<line x1="-33" y1="-13.6" x2="-17" y2="-13.6" stroke="#555" stroke-width="0.6"/>
<line x1="-17" y1="-15.6" x2="-15.8" y2="-11.5" stroke="#555" stroke-width="0.7"/>
<path d="M-29.5 0 L-27.8 -1.8 L-26.1 0 L-27.8 1.8 Z" fill="#666" stroke="#222" stroke-width="0.6" stroke-linejoin="round" />
<line x1="-30.5" y1="0.4" x2="-25" y2="0.4" stroke="#555" stroke-width="0.5"/>
<line x1="-27.5" y1="-2.8" x2="-27.5" y2="2.8" stroke="#555" stroke-width="0.5"/>
<line x1="-14.5" y1="-16" x2="-14.5" y2="26.1" stroke="#333" stroke-width="1"/>
<line x1="-11.5" y1="-16" x2="-11.5" y2="26.1" stroke="#555" stroke-width="1"/>
<line x1="-5.5" y1="-16" x2="-5.5" y2="26.1" stroke="#333" stroke-width="1"/>
<line x1="-3.5" y1="-16" x2="-3.5" y2="26.1" stroke="#555" stroke-width="1"/>
<line x1="-2.5" y1="-16" x2="-2.5" y2="26.1" stroke="#777" stroke-width="0.5"/>
<line x1="-20.8" y1="-8.6" x2="-14.4" y2="-8.6" stroke="#666" stroke-width="0.5"/>
<line x1="-2.5" y1="2.5" x2="-2.5" y2="3.3" stroke="#222" stroke-width="1"/>
<line x1="-2.5" y1="5.3" x2="-2.5" y2="6.1" stroke="#222" stroke-width="1"/>
</g>
<line x1="168" y1="553.5" x2="220" y2="553.5" stroke="#555" stroke-width="0.5" stroke-dasharray="7 2 2 2"/>
<g transform="translate(284.3 536.5)" >
<path d="M0 42.6 V9 L4.5 0 H39.5 L44 9 V42.6 Z" fill="none" stroke="#1e1e1e" stroke-width="1.5" stroke-linejoin="round" />
<path d="M3.6 36 V10 L6.8 2.6 H37.2 L40.4 10 V36" fill="none" stroke="#444" stroke-width="0.8" stroke-linejoin="round" />
<line x1="3.6" y1="36" x2="40.4" y2="36" stroke="#333" stroke-width="1"/>
<line x1="0" y1="38" x2="44" y2="38" stroke="#777" stroke-width="0.5"/>
<line x1="3.6" y1="9" x2="5.2" y2="9" stroke="#444" stroke-width="1"/>
<line x1="38.8" y1="9" x2="40.4" y2="9" stroke="#444" stroke-width="1"/>
<line x1="3.6" y1="14" x2="5.2" y2="14" stroke="#444" stroke-width="1"/>
<line x1="38.8" y1="14" x2="40.4" y2="14" stroke="#444" stroke-width="1"/>
<line x1="3.6" y1="19" x2="5.2" y2="19" stroke="#444" stroke-width="1"/>
<line x1="38.8" y1="19" x2="40.4" y2="19" stroke="#444" stroke-width="1"/>
<line x1="3.6" y1="24" x2="5.2" y2="24" stroke="#444" stroke-width="1"/>
<line x1="38.8" y1="24" x2="40.4" y2="24" stroke="#444" stroke-width="1"/>
<line x1="3.6" y1="29" x2="5.2" y2="29" stroke="#444" stroke-width="1"/>
<line x1="38.8" y1="29" x2="40.4" y2="29" stroke="#444" stroke-width="1"/>
<line x1="5.2" y1="8" x2="5.2" y2="34" stroke="#777" stroke-width="0.5"/>
<line x1="38.2" y1="8" x2="38.2" y2="34" stroke="#777" stroke-width="0.5"/>
</g>
<circle cx="306.3" cy="553.1" r="24.4" fill="#fff" stroke="#1e1e1e" stroke-width="1.4"/>
<circle cx="306.3" cy="553.1" r="22.2" fill="none" stroke="#555" stroke-width="0.6" stroke-dasharray="2.5 1.5"/>
<circle cx="306.3" cy="553.1" r="18.06" fill="none" stroke="#2b2b2b" stroke-width="1.1"/>
<circle cx="306.3" cy="553.1" r="16.86" fill="none" stroke="#777" stroke-width="0.5"/>
<circle cx="306.3" cy="553.1" r="4.4" fill="none" stroke="#2b2b2b" stroke-width="1.2"/>
<circle cx="306.3" cy="553.1" r="2.3" fill="none" stroke="#2b2b2b" stroke-width="1"/>
<circle cx="322" cy="568.8" r="1" fill="#555" stroke="#222" stroke-width="0.6"/>
<circle cx="290.6" cy="568.8" r="1" fill="#555" stroke="#222" stroke-width="0.6"/>
<circle cx="290.6" cy="537.4" r="1" fill="#555" stroke="#222" stroke-width="0.6"/>
<circle cx="322" cy="537.4" r="1" fill="#555" stroke="#222" stroke-width="0.6"/>
<line x1="280.4" y1="553.5" x2="332.2" y2="553.5" stroke="#555" stroke-width="0.5" stroke-dasharray="6 1.5 1.5 1.5"/>
<line x1="306.5" y1="527.2" x2="306.5" y2="579" stroke="#555" stroke-width="0.5" stroke-dasharray="6 1.5 1.5 1.5"/>
<text transform="translate(311 519.2) scale(1.17 1)" font-size="9.2" text-anchor="start" >4-Ø8.5</text>
<line x1="276.4" y1="521.5" x2="343.4" y2="521.5" stroke="#555" stroke-width="1"/>
<path d="M291 521.5 L283.8 523 L283.8 520 Z" fill="#1c1c1c"/>
<path d="M294.6 521.5 L301.8 520 L301.8 523 Z" fill="#1c1c1c"/>
<line x1="292.8" y1="522.2" x2="292.8" y2="540" stroke="#c4c4c4" stroke-width="2.6"/>
<line x1="291.5" y1="519.7" x2="291.5" y2="540" stroke="#555" stroke-width="1"/>
<line x1="294.5" y1="519.7" x2="294.5" y2="540" stroke="#555" stroke-width="1"/>
<line x1="246.6" y1="524.2" x2="341.2" y2="570.1" stroke="#222" stroke-width="0.9"/>
<text transform="translate(260.6 529) rotate(25.9) scale(1.17 1)" font-size="9.2" text-anchor="middle" >Ø160</text>
<path d="M283.6 542.2 L276.47 540.4 L277.78 537.71 Z" fill="#1c1c1c"/>
<path d="M329 564.2 L336.13 566 L334.82 568.69 Z" fill="#1c1c1c"/>
<!-- s_gr17f -->
<line x1="150.8" y1="652.5" x2="194" y2="652.5" stroke="#555" stroke-width="1"/>
<path d="M165.5 652.5 L158.3 654 L158.3 651 Z" fill="#1c1c1c"/>
<path d="M169.5 652.5 L176.7 651 L176.7 654 Z" fill="#1c1c1c"/>
<text transform="translate(189.4 650.7) scale(1.25 1)" font-size="8" text-anchor="middle" >6</text>
<line x1="165.5" y1="650.6" x2="165.5" y2="668.7" stroke="#555" stroke-width="1"/>
<line x1="169.5" y1="650.6" x2="169.5" y2="668.7" stroke="#555" stroke-width="1"/>
<circle cx="167.9" cy="674.3" r="6.1" fill="none" stroke="#1e1e1e" stroke-width="1.35"/>
<circle cx="167.9" cy="674.3" r="3.6" fill="none" stroke="#777" stroke-width="0.5"/>
<line x1="163.4" y1="674.5" x2="172.4" y2="674.5" stroke="#555" stroke-width="0.6"/>
<line x1="167.5" y1="669.8" x2="167.5" y2="678.8" stroke="#555" stroke-width="0.6"/>
<circle cx="167.9" cy="669.6" r="1" fill="#fff" stroke="#333" stroke-width="0.6"/>
<line x1="147" y1="668.5" x2="165.9" y2="668.5" stroke="#555" stroke-width="1"/>
<line x1="147" y1="679.5" x2="164.4" y2="679.5" stroke="#555" stroke-width="1"/>
<line x1="149.5" y1="656.6" x2="149.5" y2="713.2" stroke="#555" stroke-width="1"/>
<path d="M149.5 668.1 L148 660.9 L151 660.9 Z" fill="#1c1c1c"/>
<path d="M149.5 679.8 L151 687 L148 687 Z" fill="#1c1c1c"/>
<text transform="translate(146.6 704.7) rotate(-90) scale(1.17 1)" font-size="9.2" text-anchor="middle" >22.5</text>
<line x1="312.3" y1="618.5" x2="372" y2="618.5" stroke="#555" stroke-width="1"/>
<path d="M312.3 618.5 L319.5 617 L319.5 620 Z" fill="#1c1c1c"/>
<path d="M372 618.5 L364.8 620 L364.8 617 Z" fill="#1c1c1c"/>
<line x1="372" y1="618.5" x2="439.3" y2="618.5" stroke="#555" stroke-width="1"/>
<path d="M372 618.5 L379.2 617 L379.2 620 Z" fill="#1c1c1c"/>
<path d="M439.3 618.5 L432.1 620 L432.1 617 Z" fill="#1c1c1c"/>
<text transform="translate(342 616.7) scale(1.17 1)" font-size="9.2" text-anchor="middle" >174</text>
<text transform="translate(405.5 617.2) scale(1.17 1)" font-size="9.2" text-anchor="middle" >L</text>
<line x1="312.5" y1="616.3" x2="312.5" y2="638" stroke="#555" stroke-width="1"/>
<line x1="312.5" y1="656" x2="312.5" y2="671" stroke="#555" stroke-width="1"/>
<line x1="311.5" y1="677" x2="311.5" y2="727.6" stroke="#555" stroke-width="1"/>
<line x1="372.5" y1="616.3" x2="372.5" y2="658" stroke="#555" stroke-width="1"/>
<line x1="439.5" y1="616.3" x2="439.5" y2="658" stroke="#555" stroke-width="1"/>
<line x1="297.3" y1="632.5" x2="342" y2="632.5" stroke="#555" stroke-width="1"/>
<path d="M312.3 632.5 L305.1 634 L305.1 631 Z" fill="#1c1c1c"/>
<path d="M327.4 632.5 L334.6 631 L334.6 634 Z" fill="#1c1c1c"/>
<text transform="translate(319.7 630.1) scale(1.17 1)" font-size="9.2" text-anchor="middle" >40</text>
<line x1="312.3" y1="642.5" x2="354" y2="642.5" stroke="#555" stroke-width="1"/>
<path d="M327.4 642.5 L320.2 644 L320.2 641 Z" fill="#1c1c1c"/>
<path d="M330.5 642.5 L337.7 641 L337.7 644 Z" fill="#1c1c1c"/>
<text transform="translate(349.6 640.2) scale(1.17 1)" font-size="9.2" text-anchor="middle" >8</text>
<line x1="302.7" y1="651.5" x2="342" y2="651.5" stroke="#555" stroke-width="1"/>
<path d="M327.4 651.5 L320.2 653 L320.2 650 Z" fill="#1c1c1c"/>
<path d="M329.9 651.5 L337.1 650 L337.1 653 Z" fill="#1c1c1c"/>
<text transform="translate(307.5 649.4) scale(1.17 1)" font-size="9.2" text-anchor="middle" >3</text>
<line x1="327.5" y1="630.6" x2="327.5" y2="657.5" stroke="#555" stroke-width="1"/>
<line x1="330.5" y1="641" x2="330.5" y2="657.5" stroke="#555" stroke-width="1"/>
<text transform="translate(271 674.1) rotate(-90) scale(1.17 1)" font-size="9.2" text-anchor="middle" >Ø120</text>
<line x1="271.7" y1="657.5" x2="327" y2="657.5" stroke="#555" stroke-width="1"/>
<line x1="271.7" y1="690.5" x2="327" y2="690.5" stroke="#555" stroke-width="1"/>
<line x1="273.5" y1="657.5" x2="273.5" y2="690.9" stroke="#555" stroke-width="1"/>
<path d="M273.5 657.5 L275 664.7 L272 664.7 Z" fill="#1c1c1c"/>
<path d="M273.5 690.9 L272 683.7 L275 683.7 Z" fill="#1c1c1c"/>
<text transform="translate(284.4 674) rotate(-90) scale(1.17 1)" font-size="9.2" text-anchor="middle" >Ø80<tspan font-size="6.6" dy="1.5">j6</tspan></text>
<line x1="287.7" y1="663.5" x2="327" y2="663.5" stroke="#555" stroke-width="1"/>
<line x1="287.7" y1="685.5" x2="327" y2="685.5" stroke="#555" stroke-width="1"/>
<line x1="289.5" y1="663.1" x2="289.5" y2="685.2" stroke="#555" stroke-width="1"/>
<path d="M289.5 663.1 L291 670.3 L288 670.3 Z" fill="#1c1c1c"/>
<path d="M289.5 685.2 L288 678 L291 678 Z" fill="#1c1c1c"/>
<text transform="translate(299.6 674) rotate(-90) scale(1.17 1)" font-size="9.2" text-anchor="middle" >Ø20<tspan font-size="6.6" dy="1.5">k6</tspan></text>
<line x1="303.2" y1="671.5" x2="312.3" y2="671.5" stroke="#555" stroke-width="1"/>
<line x1="303.2" y1="678.5" x2="312.3" y2="678.5" stroke="#555" stroke-width="1"/>
<line x1="303.5" y1="657.3" x2="303.5" y2="691.2" stroke="#555" stroke-width="1"/>
<path d="M303.5 671.1 L302 663.9 L305 663.9 Z" fill="#1c1c1c"/>
<path d="M303.5 678.1 L305 685.3 L302 685.3 Z" fill="#1c1c1c"/>
<line x1="305" y1="674.5" x2="448" y2="674.5" stroke="#444" stroke-width="0.6" stroke-dasharray="9 2 2 2"/>
<g transform="translate(374.9 674.6)" >
<path d="M-44.5 -3.7 H-60.4 L-61.4 -2.7 V2.7 L-60.4 3.7 H-44.5" fill="none" stroke="#2b2b2b" stroke-width="1.15" stroke-linejoin="round" />
<line x1="-60.4" y1="-3.7" x2="-60.4" y2="3.7" stroke="#555" stroke-width="0.6"/>
<path d="M-35.3 -11.7 L-41.5 -10.6 Q-44.5 -10 -44.5 -7.5 V6.5 Q-44.5 9 -42 9.6 L-38.5 10.6 V14.5 L-35.3 16.5" fill="none" stroke="#2b2b2b" stroke-width="1.15" stroke-linejoin="round" />
<line x1="-44.5" y1="-5.1" x2="-35.3" y2="-5.1" stroke="#666" stroke-width="0.5"/>
<line x1="-44.5" y1="5.9" x2="-35.3" y2="5.9" stroke="#666" stroke-width="0.5"/>
<path d="M-35.3 16.5 V-14 Q-35.3 -16.6 -32.5 -16.6 H-16 L-14.5 -17.3 H-1.2 Q0 -17.3 0 -16 V17 H-3.5 V19.2" fill="none" stroke="#2b2b2b" stroke-width="1.3" stroke-linejoin="round" />
<path d="M-35.3 -12.3 H-24 L-21.3 -9.5 V16.6" fill="none" stroke="#2b2b2b" stroke-width="0.9" stroke-linejoin="round" />
<line x1="-35.3" y1="-7.6" x2="-21.3" y2="-7.6" stroke="#2a2a2a" stroke-width="1"/>
<line x1="-35.3" y1="-0.6" x2="-21.3" y2="-0.6" stroke="#2a2a2a" stroke-width="1"/>
<line x1="-35.3" y1="5.4" x2="-21.3" y2="5.4" stroke="#2a2a2a" stroke-width="1"/>
<line x1="-35.3" y1="11.2" x2="-21.3" y2="11.2" stroke="#2a2a2a" stroke-width="1"/>
<line x1="-32.4" y1="-12.3" x2="-32.4" y2="16.6" stroke="#666" stroke-width="0.6"/>
<line x1="-24.4" y1="-9" x2="-24.4" y2="16.6" stroke="#666" stroke-width="0.6"/>
<line x1="-33.5" y1="-14.1" x2="-17" y2="-14.1" stroke="#555" stroke-width="0.6"/>
<line x1="-17" y1="-16.6" x2="-15.8" y2="-12.5" stroke="#555" stroke-width="0.7"/>
<circle cx="-28" cy="-0.6" r="1.7" fill="#666" stroke="#2b2b2b" stroke-width="0.8"/>
<line x1="-30.6" y1="-0.1" x2="-25.4" y2="-0.1" stroke="#555" stroke-width="0.5"/>
<line x1="-28.4" y1="-3.2" x2="-28.4" y2="2" stroke="#555" stroke-width="0.5"/>
<line x1="-16.4" y1="-17" x2="-16.4" y2="18.6" stroke="#333" stroke-width="1"/>
<line x1="-12.4" y1="-17" x2="-12.4" y2="18.6" stroke="#555" stroke-width="1"/>
<line x1="-7.4" y1="-17" x2="-7.4" y2="18.6" stroke="#333" stroke-width="1"/>
<line x1="-4.4" y1="-17" x2="-4.4" y2="18.6" stroke="#555" stroke-width="1"/>
<line x1="-3.4" y1="-17" x2="-3.4" y2="18.6" stroke="#777" stroke-width="0.5"/>
<line x1="-21.3" y1="-9.1" x2="-16" y2="-9.1" stroke="#666" stroke-width="0.5"/>
<line x1="-3.4" y1="2.5" x2="-3.4" y2="3.3" stroke="#222" stroke-width="1"/>
<line x1="-3.4" y1="5.3" x2="-3.4" y2="6.1" stroke="#222" stroke-width="1"/>
<path d="M-38.3 14.5 V19.2 H-40.5 Q-41.6 19.2 -41.6 20.4 V24 Q-41.6 25 -40.5 25 H3.7 Q4.8 25 4.8 24 V20.4 Q4.8 19.2 3.7 19.2 H-3.5" fill="none" stroke="#2b2b2b" stroke-width="1.3" stroke-linejoin="round" />
<line x1="-38.3" y1="18.9" x2="-3.5" y2="18.9" stroke="#555" stroke-width="1"/>
<line x1="-41.6" y1="21.9" x2="-33" y2="21.9" stroke="#555" stroke-width="0.6"/>
<line x1="-33" y1="22" x2="-31.5" y2="25" stroke="#555" stroke-width="0.6"/>
<line x1="4.8" y1="21.9" x2="-2" y2="21.9" stroke="#555" stroke-width="0.6"/>
<circle cx="-9.1" cy="20.2" r="1.6" fill="#777" stroke="#2b2b2b" stroke-width="0.8"/>
</g>
<path d="M327.4 671 H313.3 L312.3 672 V677.2 L313.3 678.2 H327.4" fill="none" stroke="#2b2b2b" stroke-width="1.15" stroke-linejoin="round" />
<path d="M326.9 657.8 H330.5 V661.8 Q329.3 663.3 330.5 664.8 V684.4 Q329.3 685.9 330.5 687.4 V691.4 H326.9 V687.4 Q328.1 685.9 326.9 684.4 V664.8 Q328.1 663.3 326.9 661.8 Z" fill="none" stroke="#2b2b2b" stroke-width="1.2" stroke-linejoin="round" />
<path d="M330.5 665.3 Q332 663.1 339.5 663.8" fill="none" stroke="#2b2b2b" stroke-width="1" stroke-linejoin="round" />
<path d="M330.5 683.9 Q332 686.1 339.5 685.4" fill="none" stroke="#2b2b2b" stroke-width="1" stroke-linejoin="round" />
<g transform="translate(373.7 674.6)" >
<path d="M0 -11.4 H4.8 M0 11.4 H4.8" fill="none" stroke="#2b2b2b" stroke-width="1.1" stroke-linejoin="round" />
<line x1="2.8" y1="-11.4" x2="2.8" y2="11.4" stroke="#666" stroke-width="0.6"/>
<path d="M9.6 -16 H7 Q4.8 -16 4.8 -13.5 V13.5 Q4.8 16 7 16 H9.6" fill="none" stroke="#2b2b2b" stroke-width="1.1" stroke-linejoin="round" />
<line x1="9.8" y1="-16" x2="9.8" y2="16" stroke="#2b2b2b" stroke-width="1"/>
<circle cx="8" cy="0.2" r="1.2" fill="none" stroke="#2b2b2b" stroke-width="0.7"/>
<circle cx="7.4" cy="-14" r="0.8" fill="none" stroke="#2b2b2b" stroke-width="0.5"/>
<circle cx="7.4" cy="14" r="0.8" fill="none" stroke="#2b2b2b" stroke-width="0.5"/>
<path d="M9.6 -16 H45.3 M9.6 16 H45.3" fill="none" stroke="#2b2b2b" stroke-width="1.3" stroke-linejoin="round" />
<line x1="9.6" y1="-14.1" x2="45.3" y2="-14.1" stroke="#444" stroke-width="1"/>
<line x1="9.6" y1="13.9" x2="45.3" y2="13.9" stroke="#444" stroke-width="1"/>
<line x1="11" y1="-9.1" x2="44.5" y2="-9.1" stroke="#333" stroke-width="1"/>
<line x1="11" y1="-6.1" x2="44.5" y2="-6.1" stroke="#333" stroke-width="1"/>
<line x1="11" y1="-4.1" x2="44.5" y2="-4.1" stroke="#333" stroke-width="1"/>
<line x1="11" y1="3.9" x2="44.5" y2="3.9" stroke="#333" stroke-width="1"/>
<line x1="11" y1="5.9" x2="44.5" y2="5.9" stroke="#333" stroke-width="1"/>
<line x1="11" y1="9.9" x2="44.5" y2="9.9" stroke="#333" stroke-width="1"/>
<line x1="10.8" y1="-9.6" x2="10.8" y2="9.6" stroke="#444" stroke-width="1"/>
<rect x="12.8" y="-9.6" width="16" height="3.7" rx="1.6" fill="none" stroke="#2b2b2b" stroke-width="0.9"/>
<rect x="12.8" y="5.9" width="16" height="3.7" rx="1.6" fill="none" stroke="#2b2b2b" stroke-width="0.9"/>
<line x1="30.8" y1="-11.5" x2="30.8" y2="11.5" stroke="#555" stroke-width="1"/>
<line x1="28.8" y1="-3.7" x2="28.8" y2="3.7" stroke="#555" stroke-width="1"/>
<rect x="32.5" y="-1.8" width="10.7" height="3.4" rx="0" fill="none" stroke="#2b2b2b" stroke-width="0.8"/>
<rect x="36" y="-1" width="3" height="1.9" rx="0" fill="#444" stroke="#2b2b2b" stroke-width="0.6"/>
<line x1="33.8" y1="-9.6" x2="33.8" y2="9.6" stroke="#777" stroke-width="0.5"/>
<path d="M45.3 -16.9 H59.5 Q65.6 -16.9 65.6 -11 V11 Q65.6 16.9 59.5 16.9 H45.3 Z" fill="none" stroke="#2b2b2b" stroke-width="1.3" stroke-linejoin="round" />
<line x1="47.8" y1="-16.9" x2="47.8" y2="16.9" stroke="#555" stroke-width="0.6"/>
<line x1="58.8" y1="-16.9" x2="58.8" y2="16.9" stroke="#444" stroke-width="1"/>
<line x1="45.3" y1="-14.1" x2="59.2" y2="-14.1" stroke="#777" stroke-width="0.5"/>
<line x1="45.3" y1="14.9" x2="59.2" y2="14.9" stroke="#777" stroke-width="0.5"/>
</g>
<line x1="439.3" y1="657.5" x2="464" y2="657.5" stroke="#555" stroke-width="1"/>
<line x1="439.3" y1="691.5" x2="464" y2="691.5" stroke="#555" stroke-width="1"/>
<line x1="461.5" y1="657.8" x2="461.5" y2="691.4" stroke="#555" stroke-width="1"/>
<path d="M461.5 657.8 L463 665 L460 665 Z" fill="#1c1c1c"/>
<path d="M461.5 691.4 L460 684.2 L463 684.2 Z" fill="#1c1c1c"/>
<text transform="translate(459.4 674.6) rotate(-90) scale(1.17 1)" font-size="9.2" text-anchor="middle" >AC</text>
<text transform="translate(270 707.2) scale(1.15 1)" font-size="9.5" text-anchor="start" >M6<tspan font-size="9.3">深</tspan>15</text>
<line x1="267" y1="709.5" x2="334" y2="709.5" stroke="#555" stroke-width="1"/>
<text transform="translate(266 718.2) scale(1.15 1)" font-size="9.5" text-anchor="start" >GB/T 145</text>
<text transform="translate(266 729.2) scale(1.15 1)" font-size="9.5" text-anchor="start" >DIN 332</text>
<line x1="318.3" y1="712.5" x2="366.8" y2="712.5" stroke="#555" stroke-width="1"/>
<path d="M333.3 712.5 L326.1 714 L326.1 711 Z" fill="#1c1c1c"/>
<path d="M341.6 712.5 L348.8 711 L348.8 714 Z" fill="#1c1c1c"/>
<text transform="translate(360.4 710.7) scale(1.17 1)" font-size="9.2" text-anchor="middle" >28</text>
<line x1="312.5" y1="726.5" x2="336.7" y2="726.5" stroke="#555" stroke-width="1"/>
<path d="M312.5 726.5 L319.7 725 L319.7 728 Z" fill="#1c1c1c"/>
<path d="M336.7 726.5 L329.5 728 L329.5 725 Z" fill="#1c1c1c"/>
<line x1="336.7" y1="726.5" x2="375.9" y2="726.5" stroke="#555" stroke-width="1"/>
<path d="M336.7 726.5 L343.9 725 L343.9 728 Z" fill="#1c1c1c"/>
<path d="M375.9 726.5 L368.7 728 L368.7 725 Z" fill="#1c1c1c"/>
<text transform="translate(325.26 723.8) scale(1.17 1)" font-size="9.2" text-anchor="middle" >58</text>
<text transform="translate(356 724) scale(1.17 1)" font-size="9.2" text-anchor="middle" >110</text>
<line x1="333.3" y1="738.5" x2="379.7" y2="738.5" stroke="#555" stroke-width="1"/>
<path d="M333.3 738.5 L340.5 737 L340.5 740 Z" fill="#1c1c1c"/>
<path d="M379.7 738.5 L372.5 740 L372.5 737 Z" fill="#1c1c1c"/>
<text transform="translate(356 736.4) scale(1.17 1)" font-size="9.2" text-anchor="middle" >131</text>
<line x1="333.5" y1="700.1" x2="333.5" y2="740.3" stroke="#555" stroke-width="1"/>
<line x1="336.5" y1="700.1" x2="336.5" y2="727.7" stroke="#555" stroke-width="1"/>
<line x1="341.5" y1="700.1" x2="341.5" y2="714.3" stroke="#555" stroke-width="1"/>
<line x1="375.5" y1="700.1" x2="375.5" y2="727.7" stroke="#555" stroke-width="1"/>
<line x1="379.5" y1="700.1" x2="379.5" y2="740.3" stroke="#555" stroke-width="1"/>
<line x1="312.5" y1="710.1" x2="312.5" y2="727.7" stroke="#555" stroke-width="1"/>
<line x1="572.7" y1="618.5" x2="618.6" y2="618.5" stroke="#555" stroke-width="1"/>
<path d="M572.7 618.5 L579.9 617 L579.9 620 Z" fill="#1c1c1c"/>
<path d="M618.6 618.5 L611.4 620 L611.4 617 Z" fill="#1c1c1c"/>
<text transform="translate(596 616.5) scale(1.17 1)" font-size="9.2" text-anchor="middle" >140</text>
<line x1="572.5" y1="616" x2="572.5" y2="668" stroke="#555" stroke-width="1"/>
<line x1="618.5" y1="616" x2="618.5" y2="640" stroke="#555" stroke-width="1"/>
<line x1="618.5" y1="651" x2="618.5" y2="668" stroke="#555" stroke-width="1"/>
<text transform="translate(536.9 633.3) scale(1.17 1)" font-size="9.2" text-anchor="start" >4-Ø6.5</text>
<line x1="534.3" y1="635.5" x2="600.9" y2="635.5" stroke="#555" stroke-width="1"/>
<path d="M583.4 635.5 L576.2 637 L576.2 634 Z" fill="#1c1c1c"/>
<path d="M586.4 635.5 L593.6 634 L593.6 637 Z" fill="#1c1c1c"/>
<line x1="583.5" y1="633.5" x2="583.5" y2="658.5" stroke="#555" stroke-width="1"/>
<line x1="586.5" y1="633.5" x2="586.5" y2="658.5" stroke="#555" stroke-width="1"/>
<line x1="584.9" y1="636.5" x2="584.9" y2="658" stroke="#aaa" stroke-width="2.2"/>
<line x1="595.7" y1="650.5" x2="628.9" y2="650.5" stroke="#555" stroke-width="1"/>
<path d="M595.7 650.5 L602.9 649 L602.9 652 Z" fill="#1c1c1c"/>
<path d="M628.9 650.5 L621.7 652 L621.7 649 Z" fill="#1c1c1c"/>
<text transform="translate(612.4 648.5) scale(1.17 1)" font-size="9.2" text-anchor="middle" >AD</text>
<line x1="595.5" y1="648.3" x2="595.5" y2="716" stroke="#555" stroke-width="1"/>
<line x1="628.5" y1="648.3" x2="628.5" y2="667" stroke="#555" stroke-width="1"/>
<g transform="translate(573 658)" >
<path d="M0 40.8 V10.2 L4.8 0 H40.5 L45.3 10.2 V40.8" fill="none" stroke="#1e1e1e" stroke-width="1.5" stroke-linejoin="round" />
<line x1="-0.5" y1="40.8" x2="45.8" y2="40.8" stroke="#1e1e1e" stroke-width="1.6"/>
<path d="M3.7 36.8 V11 L7 2.7 H38.4 L42.7 11 V36.8" fill="none" stroke="#444" stroke-width="0.8" stroke-linejoin="round" />
<line x1="3.7" y1="36.5" x2="42.7" y2="36.5" stroke="#555" stroke-width="1"/>
<line x1="3.7" y1="9.5" x2="5.3" y2="9.5" stroke="#444" stroke-width="1"/>
<line x1="41" y1="9.5" x2="42.7" y2="9.5" stroke="#444" stroke-width="1"/>
<line x1="3.7" y1="14.5" x2="5.3" y2="14.5" stroke="#444" stroke-width="1"/>
<line x1="41" y1="14.5" x2="42.7" y2="14.5" stroke="#444" stroke-width="1"/>
<line x1="3.7" y1="19.5" x2="5.3" y2="19.5" stroke="#444" stroke-width="1"/>
<line x1="41" y1="19.5" x2="42.7" y2="19.5" stroke="#444" stroke-width="1"/>
<line x1="3.7" y1="24.5" x2="5.3" y2="24.5" stroke="#444" stroke-width="1"/>
<line x1="41" y1="24.5" x2="42.7" y2="24.5" stroke="#444" stroke-width="1"/>
<line x1="3.7" y1="29.5" x2="5.3" y2="29.5" stroke="#444" stroke-width="1"/>
<line x1="41" y1="29.5" x2="42.7" y2="29.5" stroke="#444" stroke-width="1"/>
<line x1="5.5" y1="8" x2="5.5" y2="34" stroke="#777" stroke-width="0.5"/>
<line x1="40.5" y1="8" x2="40.5" y2="34" stroke="#777" stroke-width="0.5"/>
<line x1="9.5" y1="4" x2="9.5" y2="33" stroke="#888" stroke-width="0.5"/>
<line x1="37.5" y1="4" x2="37.5" y2="33" stroke="#888" stroke-width="0.5"/>
<path d="M11.2 10.5 L16.5 5.1 L29.3 5.1 L34.6 10.5 L34.6 19.5 L30.5 23.5 L15.3 23.5 L11.2 19.5 Z" fill="none" stroke="#1e1e1e" stroke-width="1.4" stroke-linejoin="round" />
<circle cx="22.9" cy="16" r="8.6" fill="none" stroke="#333" stroke-width="0.8"/>
<circle cx="22.9" cy="16" r="6.6" fill="none" stroke="#1e1e1e" stroke-width="1.5"/>
<circle cx="22.9" cy="16" r="3.7" fill="none" stroke="#1e1e1e" stroke-width="1.3"/>
<circle cx="22.9" cy="16" r="1.1" fill="#555" stroke="#2b2b2b" stroke-width="0.7"/>
<circle cx="15.5" cy="26.7" r="3.7" fill="none" stroke="#1e1e1e" stroke-width="1.5"/>
<line x1="12.5" y1="26.5" x2="18.5" y2="26.5" stroke="#666" stroke-width="0.5"/>
<line x1="15.5" y1="23.7" x2="15.5" y2="29.7" stroke="#666" stroke-width="0.5"/>
<circle cx="30.4" cy="28.3" r="5.3" fill="none" stroke="#666" stroke-width="1.3"/>
<line x1="25.5" y1="28.5" x2="35.3" y2="28.5" stroke="#666" stroke-width="0.5"/>
<line x1="30.5" y1="23.4" x2="30.5" y2="33.2" stroke="#666" stroke-width="0.5"/>
<path d="M7.6 8 L9.4 6.2 L11.2 8 L9.4 9.8 Z" fill="#444" stroke="#222" stroke-width="0.6" stroke-linejoin="round" />
<path d="M0 36.8 H12.8 V40.8" fill="none" stroke="#2b2b2b" stroke-width="1.2" stroke-linejoin="round" />
<path d="M4.8 36.8 V33.5 Q4.8 32.5 5.8 32.5 H10.2 Q11.2 32.5 11.2 33.5 V36.8" fill="none" stroke="#2b2b2b" stroke-width="1" stroke-linejoin="round" />
<path d="M45.3 36.8 H33.6 V40.8" fill="none" stroke="#2b2b2b" stroke-width="1.2" stroke-linejoin="round" />
<path d="M34.7 36.8 V33.5 Q34.7 32.5 35.7 32.5 H40.1 Q41.1 32.5 41.1 33.5 V36.8" fill="none" stroke="#2b2b2b" stroke-width="1" stroke-linejoin="round" />
<rect x="34.6" y="37.5" width="9" height="2.5" rx="0" fill="#999" stroke="#333" stroke-width="0.5"/>
<line x1="4" y1="16.5" x2="42.5" y2="16.5" stroke="#555" stroke-width="0.5" stroke-dasharray="6 1.5 1.5 1.5"/>
</g>
<path d="M618.3 666 H624.8 Q628.6 666 628.6 670 V680 Q628.6 684 624.8 684 H618.3" fill="none" stroke="#2b2b2b" stroke-width="1.2" stroke-linejoin="round" />
<line x1="620.5" y1="666" x2="620.5" y2="684" stroke="#444" stroke-width="1"/>
<line x1="621.5" y1="666" x2="621.5" y2="684" stroke="#777" stroke-width="0.5"/>
<circle cx="595.7" cy="674.5" r="17.4" fill="#fff" stroke="#1e1e1e" stroke-width="1.3"/>
<circle cx="595.7" cy="674.5" r="15.2" fill="none" stroke="#555" stroke-width="0.6" stroke-dasharray="2.5 1.5"/>
<circle cx="595.7" cy="674.5" r="12.8" fill="none" stroke="#2b2b2b" stroke-width="1.1"/>
<circle cx="595.7" cy="674.5" r="11.6" fill="none" stroke="#777" stroke-width="0.5"/>
<circle cx="595.7" cy="674.5" r="4.4" fill="none" stroke="#2b2b2b" stroke-width="1.2"/>
<circle cx="595.7" cy="674.5" r="2.3" fill="none" stroke="#2b2b2b" stroke-width="1"/>
<circle cx="606.45" cy="685.25" r="1" fill="#555" stroke="#222" stroke-width="0.6"/>
<circle cx="584.95" cy="685.25" r="1" fill="#555" stroke="#222" stroke-width="0.6"/>
<circle cx="584.95" cy="663.75" r="1" fill="#555" stroke="#222" stroke-width="0.6"/>
<circle cx="606.45" cy="663.75" r="1" fill="#555" stroke="#222" stroke-width="0.6"/>
<line x1="576.7" y1="674.5" x2="614.7" y2="674.5" stroke="#555" stroke-width="0.5" stroke-dasharray="6 1.5 1.5 1.5"/>
<line x1="546" y1="646.1" x2="620.5" y2="688.2" stroke="#222" stroke-width="0.9"/>
<text transform="translate(560.3 651.6) rotate(29.5) scale(1.17 1)" font-size="9.2" text-anchor="middle" >Ø100</text>
<line x1="545.1" y1="658.5" x2="573" y2="658.5" stroke="#555" stroke-width="1"/>
<line x1="545.1" y1="699.5" x2="573" y2="699.5" stroke="#555" stroke-width="1"/>
<line x1="547.5" y1="658.2" x2="547.5" y2="699.3" stroke="#555" stroke-width="1"/>
<path d="M547.5 658.2 L549 665.4 L546 665.4 Z" fill="#1c1c1c"/>
<path d="M547.5 699.3 L546 692.1 L549 692.1 Z" fill="#1c1c1c"/>
<text transform="translate(545.4 679) rotate(-90) scale(1.17 1)" font-size="9.2" text-anchor="middle" >134</text>
<line x1="563.4" y1="674.5" x2="577" y2="674.5" stroke="#555" stroke-width="1"/>
<line x1="564.5" y1="674.4" x2="564.5" y2="699.3" stroke="#555" stroke-width="1"/>
<path d="M564.5 674.4 L566 681.6 L563 681.6 Z" fill="#1c1c1c"/>
<path d="M564.5 699.3 L563 692.1 L566 692.1 Z" fill="#1c1c1c"/>
<text transform="translate(560.6 687) rotate(-90) scale(1.17 1)" font-size="9.2" text-anchor="middle" >75<tspan font-size="6" dy="1.2">-0.5</tspan></text>
<line x1="618.3" y1="694.5" x2="654.6" y2="694.5" stroke="#555" stroke-width="1"/>
<line x1="618.3" y1="699.5" x2="654.6" y2="699.5" stroke="#555" stroke-width="1"/>
<line x1="651.5" y1="668.2" x2="651.5" y2="713.4" stroke="#555" stroke-width="1"/>
<path d="M651.5 694.8 L650 687.6 L653 687.6 Z" fill="#1c1c1c"/>
<path d="M651.5 699 L653 706.2 L650 706.2 Z" fill="#1c1c1c"/>
<text transform="translate(650.2 674.5) rotate(-90) scale(1.17 1)" font-size="9.2" text-anchor="middle" >12</text>
<text transform="translate(636.9 712.2) scale(1.17 1)" font-size="9.2" text-anchor="middle" >Ø9</text>
<line x1="595.9" y1="714.5" x2="645.5" y2="714.5" stroke="#555" stroke-width="1"/>
<path d="M611 714.5 L603.8 716 L603.8 713 Z" fill="#1c1c1c"/>
<path d="M613.4 714.5 L620.6 713 L620.6 716 Z" fill="#1c1c1c"/>
<line x1="611.5" y1="699.3" x2="611.5" y2="726.5" stroke="#555" stroke-width="1"/>
<line x1="612.5" y1="699.3" x2="612.5" y2="726.5" stroke="#555" stroke-width="1"/>
<line x1="558.3" y1="711.5" x2="599.9" y2="711.5" stroke="#555" stroke-width="1"/>
<path d="M573.2 711.5 L566 713 L566 710 Z" fill="#1c1c1c"/>
<path d="M584.9 711.5 L592.1 710 L592.1 713 Z" fill="#1c1c1c"/>
<text transform="translate(579.5 708.7) scale(1.17 1)" font-size="9.2" text-anchor="middle" >25</text>
<line x1="584.5" y1="699.3" x2="584.5" y2="712.5" stroke="#555" stroke-width="1"/>
<line x1="579.1" y1="726.5" x2="611.9" y2="726.5" stroke="#555" stroke-width="1"/>
<path d="M579.1 726.5 L586.3 725 L586.3 728 Z" fill="#1c1c1c"/>
<path d="M611.9 726.5 L604.7 728 L604.7 725 Z" fill="#1c1c1c"/>
<text transform="translate(595.9 723.5) scale(1.17 1)" font-size="9.2" text-anchor="middle" >110</text>
<line x1="573.2" y1="738.5" x2="618.3" y2="738.5" stroke="#555" stroke-width="1"/>
<path d="M573.2 738.5 L580.4 737 L580.4 740 Z" fill="#1c1c1c"/>
<path d="M618.3 738.5 L611.1 740 L611.1 737 Z" fill="#1c1c1c"/>
<text transform="translate(595.9 736.2) scale(1.17 1)" font-size="9.2" text-anchor="middle" >135</text>
<line x1="573.5" y1="699.3" x2="573.5" y2="740.2" stroke="#555" stroke-width="1"/>
<line x1="579.5" y1="712" x2="579.5" y2="727.3" stroke="#555" stroke-width="1"/>
<line x1="618.5" y1="699.3" x2="618.5" y2="740.2" stroke="#555" stroke-width="1"/>
<!-- s_grz17 -->
<line x1="150.8" y1="814.5" x2="194" y2="814.5" stroke="#555" stroke-width="1"/>
<path d="M165.5 814.5 L158.3 816 L158.3 813 Z" fill="#1c1c1c"/>
<path d="M169.5 814.5 L176.7 813 L176.7 816 Z" fill="#1c1c1c"/>
<text transform="translate(189.4 812.4) scale(1.25 1)" font-size="8" text-anchor="middle" >6</text>
<line x1="165.5" y1="812.3" x2="165.5" y2="830.5" stroke="#555" stroke-width="1"/>
<line x1="169.5" y1="812.3" x2="169.5" y2="830.5" stroke="#555" stroke-width="1"/>
<circle cx="167.9" cy="836.1" r="6.1" fill="none" stroke="#1e1e1e" stroke-width="1.35"/>
<circle cx="167.9" cy="836.1" r="3.6" fill="none" stroke="#777" stroke-width="0.5"/>
<line x1="163.4" y1="836.5" x2="172.4" y2="836.5" stroke="#555" stroke-width="0.6"/>
<line x1="167.5" y1="831.6" x2="167.5" y2="840.6" stroke="#555" stroke-width="0.6"/>
<circle cx="167.9" cy="831.4" r="1" fill="#fff" stroke="#333" stroke-width="0.6"/>
<line x1="147" y1="829.5" x2="165.9" y2="829.5" stroke="#555" stroke-width="1"/>
<line x1="147" y1="841.5" x2="164.4" y2="841.5" stroke="#555" stroke-width="1"/>
<line x1="149.5" y1="818.3" x2="149.5" y2="874.8" stroke="#555" stroke-width="1"/>
<path d="M149.5 829.9 L148 822.7 L151 822.7 Z" fill="#1c1c1c"/>
<path d="M149.5 841.6 L151 848.8 L148 848.8 Z" fill="#1c1c1c"/>
<text transform="translate(146.6 865.7) rotate(-90) scale(1.17 1)" font-size="9.2" text-anchor="middle" >22.5</text>
<line x1="307.4" y1="779.5" x2="365.6" y2="779.5" stroke="#555" stroke-width="1"/>
<path d="M307.4 779.5 L314.6 778 L314.6 781 Z" fill="#1c1c1c"/>
<path d="M365.6 779.5 L358.4 781 L358.4 778 Z" fill="#1c1c1c"/>
<line x1="365.6" y1="779.5" x2="433" y2="779.5" stroke="#555" stroke-width="1"/>
<path d="M365.6 779.5 L372.8 778 L372.8 781 Z" fill="#1c1c1c"/>
<path d="M433 779.5 L425.8 781 L425.8 778 Z" fill="#1c1c1c"/>
<text transform="translate(336.6 776.4) scale(1.17 1)" font-size="9.2" text-anchor="middle" >174</text>
<text transform="translate(398.8 776.8) scale(1.17 1)" font-size="9.2" text-anchor="middle" >L</text>
<line x1="307.5" y1="776.2" x2="307.5" y2="831.6" stroke="#555" stroke-width="1"/>
<line x1="305.5" y1="837" x2="305.5" y2="871" stroke="#555" stroke-width="1"/>
<line x1="365.5" y1="776.2" x2="365.5" y2="820" stroke="#555" stroke-width="1"/>
<line x1="433.5" y1="776.2" x2="433.5" y2="820" stroke="#555" stroke-width="1"/>
<line x1="292.3" y1="791.5" x2="339.7" y2="791.5" stroke="#555" stroke-width="1"/>
<path d="M307.4 791.5 L300.2 793 L300.2 790 Z" fill="#1c1c1c"/>
<path d="M324.3 791.5 L331.5 790 L331.5 793 Z" fill="#1c1c1c"/>
<text transform="translate(316.1 789.1) scale(1.17 1)" font-size="9.2" text-anchor="middle" >45</text>
<line x1="292.3" y1="805.5" x2="337.7" y2="805.5" stroke="#555" stroke-width="1"/>
<path d="M307.4 805.5 L300.2 807 L300.2 804 Z" fill="#1c1c1c"/>
<path d="M323 805.5 L330.2 804 L330.2 807 Z" fill="#1c1c1c"/>
<text transform="translate(315.3 802.5) scale(1.17 1)" font-size="9.2" text-anchor="middle" >40</text>
<line x1="308.3" y1="813.5" x2="347.7" y2="813.5" stroke="#555" stroke-width="1"/>
<path d="M323 813.5 L315.8 815 L315.8 812 Z" fill="#1c1c1c"/>
<path d="M324.6 813.5 L331.8 812 L331.8 815 Z" fill="#1c1c1c"/>
<text transform="translate(343.7 811.1) scale(1.17 1)" font-size="9.2" text-anchor="middle" >3</text>
<line x1="324.5" y1="789.5" x2="324.5" y2="814.5" stroke="#555" stroke-width="1"/>
<line x1="323.5" y1="803" x2="323.5" y2="826.5" stroke="#555" stroke-width="1"/>
<text transform="translate(265.4 799.7) rotate(-90) scale(1.17 1)" font-size="9.2" text-anchor="middle" >Ø48<tspan font-size="6.6" dy="1.5">k6</tspan></text>
<line x1="269.5" y1="786" x2="269.5" y2="858" stroke="#555" stroke-width="1"/>
<path d="M269.5 827.8 L268 820.6 L271 820.6 Z" fill="#1c1c1c"/>
<path d="M269.5 844.2 L271 851.4 L268 851.4 Z" fill="#1c1c1c"/>
<line x1="267.7" y1="827.5" x2="322" y2="827.5" stroke="#555" stroke-width="1"/>
<line x1="267.7" y1="844.5" x2="322" y2="844.5" stroke="#555" stroke-width="1"/>
<text transform="translate(283 804.3) rotate(-90) scale(1.17 1)" font-size="9.2" text-anchor="middle" >Ø20<tspan font-size="6.6" dy="1.5">k6</tspan></text>
<line x1="287.5" y1="791.3" x2="287.5" y2="853.3" stroke="#555" stroke-width="1"/>
<path d="M287.5 831.8 L286 824.6 L289 824.6 Z" fill="#1c1c1c"/>
<path d="M287.5 839.5 L289 846.7 L286 846.7 Z" fill="#1c1c1c"/>
<line x1="285" y1="831.5" x2="307.5" y2="831.5" stroke="#555" stroke-width="1"/>
<line x1="285" y1="839.5" x2="307.5" y2="839.5" stroke="#555" stroke-width="1"/>
<line x1="300" y1="835.5" x2="441" y2="835.5" stroke="#444" stroke-width="0.6" stroke-dasharray="9 2 2 2"/>
<path d="M323 831.8 H308.4 L307.4 832.8 V838.6 L308.4 839.6 H323" fill="none" stroke="#2b2b2b" stroke-width="1.15" stroke-linejoin="round" />
<line x1="308.5" y1="831.8" x2="308.5" y2="839.6" stroke="#555" stroke-width="0.6"/>
<path d="M323 827.2 H325 Q326 827.2 326 828.4 V843.2 Q326 844.4 325 844.4 H323 Z" fill="none" stroke="#2b2b2b" stroke-width="1.1" stroke-linejoin="round" />
<path d="M326 829 L332 826 M326 843 L332 846.5" fill="none" stroke="#2b2b2b" stroke-width="1" stroke-linejoin="round" />
<line x1="324" y1="820.5" x2="324.6" y2="827.2" stroke="#555" stroke-width="0.9"/>
<g transform="translate(367.6 835.7)" >
<path d="M-34.8 -11.2 L-43.2 -10 M-34.8 11.2 L-43.2 10" fill="none" stroke="#2b2b2b" stroke-width="1.15" stroke-linejoin="round" />
<line x1="-41.1" y1="-10.3" x2="-41.1" y2="10.3" stroke="#666" stroke-width="0.5"/>
<path d="M-34.8 17 V-13 Q-34.8 -15.6 -32 -15.6 H-16 L-14.5 -16.3 H-1.2 Q0 -16.3 0 -15 V24 Q0 26.1 -2 26.1 H-18.5 Q-20.8 26.1 -20.8 24 V19.2 H-33 L-34.8 17" fill="none" stroke="#2b2b2b" stroke-width="1.3" stroke-linejoin="round" />
<path d="M-34.8 -11.5 H-24 L-20.8 -8.5 V19.2" fill="none" stroke="#2b2b2b" stroke-width="0.9" stroke-linejoin="round" />
<line x1="-34.8" y1="-9.6" x2="-21.5" y2="-9.6" stroke="#2a2a2a" stroke-width="1"/>
<line x1="-34.8" y1="-5.9" x2="-21.5" y2="-5.9" stroke="#2a2a2a" stroke-width="1"/>
<line x1="-34.8" y1="6.4" x2="-21.5" y2="6.4" stroke="#2a2a2a" stroke-width="1"/>
<line x1="-34.8" y1="11.7" x2="-21.5" y2="11.7" stroke="#2a2a2a" stroke-width="1"/>
<line x1="-34.8" y1="-0.2" x2="-21.5" y2="-0.2" stroke="#777" stroke-width="0.5"/>
<line x1="-32.1" y1="-11.5" x2="-32.1" y2="15.5" stroke="#666" stroke-width="0.6"/>
<line x1="-24.1" y1="-8.5" x2="-24.1" y2="19.2" stroke="#666" stroke-width="0.6"/>
<line x1="-33" y1="-13.2" x2="-17" y2="-13.2" stroke="#555" stroke-width="0.6"/>
<line x1="-17" y1="-15.6" x2="-15.8" y2="-11.5" stroke="#555" stroke-width="0.7"/>
<path d="M-29.5 0 L-27.8 -1.8 L-26.1 0 L-27.8 1.8 Z" fill="#666" stroke="#222" stroke-width="0.6" stroke-linejoin="round" />
<line x1="-30.5" y1="-0.2" x2="-25" y2="-0.2" stroke="#555" stroke-width="0.5"/>
<line x1="-28.1" y1="-2.8" x2="-28.1" y2="2.8" stroke="#555" stroke-width="0.5"/>
<line x1="-14.1" y1="-16" x2="-14.1" y2="26.1" stroke="#333" stroke-width="1"/>
<line x1="-11.1" y1="-16" x2="-11.1" y2="26.1" stroke="#555" stroke-width="1"/>
<line x1="-6.1" y1="-16" x2="-6.1" y2="26.1" stroke="#333" stroke-width="1"/>
<line x1="-3.1" y1="-16" x2="-3.1" y2="26.1" stroke="#555" stroke-width="1"/>
<line x1="-2.1" y1="-16" x2="-2.1" y2="26.1" stroke="#777" stroke-width="0.5"/>
<line x1="-20.8" y1="-8.2" x2="-14.4" y2="-8.2" stroke="#666" stroke-width="0.5"/>
<line x1="-3.1" y1="2.5" x2="-3.1" y2="3.3" stroke="#222" stroke-width="1"/>
<line x1="-3.1" y1="5.3" x2="-3.1" y2="6.1" stroke="#222" stroke-width="1"/>
</g>
<g transform="translate(367.6 835.7)" >
<path d="M0 -11.4 H4.8 M0 11.4 H4.8" fill="none" stroke="#2b2b2b" stroke-width="1.1" stroke-linejoin="round" />
<line x1="2.9" y1="-11.4" x2="2.9" y2="11.4" stroke="#666" stroke-width="0.6"/>
<path d="M9.6 -16 H7 Q4.8 -16 4.8 -13.5 V13.5 Q4.8 16 7 16 H9.6" fill="none" stroke="#2b2b2b" stroke-width="1.1" stroke-linejoin="round" />
<line x1="9.9" y1="-16" x2="9.9" y2="16" stroke="#2b2b2b" stroke-width="1"/>
<circle cx="8" cy="0.2" r="1.2" fill="none" stroke="#2b2b2b" stroke-width="0.7"/>
<circle cx="7.4" cy="-14" r="0.8" fill="none" stroke="#2b2b2b" stroke-width="0.5"/>
<circle cx="7.4" cy="14" r="0.8" fill="none" stroke="#2b2b2b" stroke-width="0.5"/>
<path d="M9.6 -16 H45.3 M9.6 16 H45.3" fill="none" stroke="#2b2b2b" stroke-width="1.3" stroke-linejoin="round" />
<line x1="9.6" y1="-14.2" x2="45.3" y2="-14.2" stroke="#444" stroke-width="1"/>
<line x1="9.6" y1="13.8" x2="45.3" y2="13.8" stroke="#444" stroke-width="1"/>
<line x1="11" y1="-9.2" x2="44.5" y2="-9.2" stroke="#333" stroke-width="1"/>
<line x1="11" y1="-6.2" x2="44.5" y2="-6.2" stroke="#333" stroke-width="1"/>
<line x1="11" y1="-3.2" x2="44.5" y2="-3.2" stroke="#333" stroke-width="1"/>
<line x1="11" y1="3.8" x2="44.5" y2="3.8" stroke="#333" stroke-width="1"/>
<line x1="11" y1="5.8" x2="44.5" y2="5.8" stroke="#333" stroke-width="1"/>
<line x1="11" y1="9.8" x2="44.5" y2="9.8" stroke="#333" stroke-width="1"/>
<line x1="10.9" y1="-9.6" x2="10.9" y2="9.6" stroke="#444" stroke-width="1"/>
<rect x="12.8" y="-9.6" width="16" height="3.7" rx="1.6" fill="none" stroke="#2b2b2b" stroke-width="0.9"/>
<rect x="12.8" y="5.9" width="16" height="3.7" rx="1.6" fill="none" stroke="#2b2b2b" stroke-width="0.9"/>
<line x1="30.9" y1="-11.5" x2="30.9" y2="11.5" stroke="#555" stroke-width="1"/>
<line x1="28.9" y1="-3.7" x2="28.9" y2="3.7" stroke="#555" stroke-width="1"/>
<rect x="32.5" y="-1.8" width="10.7" height="3.4" rx="0" fill="none" stroke="#2b2b2b" stroke-width="0.8"/>
<rect x="36" y="-1" width="3" height="1.9" rx="0" fill="#444" stroke="#2b2b2b" stroke-width="0.6"/>
<line x1="33.9" y1="-9.6" x2="33.9" y2="9.6" stroke="#777" stroke-width="0.5"/>
<path d="M45.3 -16.9 H59.5 Q65.6 -16.9 65.6 -11 V11 Q65.6 16.9 59.5 16.9 H45.3 Z" fill="none" stroke="#2b2b2b" stroke-width="1.3" stroke-linejoin="round" />
<line x1="47.9" y1="-16.9" x2="47.9" y2="16.9" stroke="#555" stroke-width="0.6"/>
<line x1="58.9" y1="-16.9" x2="58.9" y2="16.9" stroke="#444" stroke-width="1"/>
<line x1="45.3" y1="-14.2" x2="59.2" y2="-14.2" stroke="#777" stroke-width="0.5"/>
<line x1="45.3" y1="14.8" x2="59.2" y2="14.8" stroke="#777" stroke-width="0.5"/>
</g>
<line x1="433" y1="818.5" x2="451.5" y2="818.5" stroke="#555" stroke-width="1"/>
<line x1="433" y1="852.5" x2="451.5" y2="852.5" stroke="#555" stroke-width="1"/>
<line x1="449.5" y1="818.8" x2="449.5" y2="852.6" stroke="#555" stroke-width="1"/>
<path d="M449.5 818.8 L451 826 L448 826 Z" fill="#1c1c1c"/>
<path d="M449.5 852.6 L448 845.4 L451 845.4 Z" fill="#1c1c1c"/>
<text transform="translate(447 836.2) rotate(-90) scale(1.17 1)" font-size="9.2" text-anchor="middle" >AC</text>
<text transform="translate(265 869) scale(1.15 1)" font-size="9.5" text-anchor="start" >M6<tspan font-size="9.3">深</tspan>15</text>
<line x1="262" y1="871.5" x2="307" y2="871.5" stroke="#555" stroke-width="1"/>
<text transform="translate(261 880.2) scale(1.15 1)" font-size="9.5" text-anchor="start" >GB/T 145</text>
<text transform="translate(261 891.6) scale(1.15 1)" font-size="9.5" text-anchor="start" >DIN 332</text>
<path d="M323.9 883.5 H336.5 Q341.4 884.5 341.4 889.3 Q341.4 894 336.5 895 H323.9 Z" fill="#8a8a8a" stroke="#1a1a1a" stroke-width="1.5" stroke-linejoin="round" />
<path d="M324.5 887.3 H337 Q339.6 889.3 337 891.3 H324.5 Z" fill="#eee" stroke="#444" stroke-width="0.6" stroke-linejoin="round" />
<line x1="325.6" y1="884.2" x2="326.8" y2="887" stroke="#222" stroke-width="0.7"/>
<line x1="325.6" y1="891.6" x2="326.8" y2="894.4" stroke="#222" stroke-width="0.7"/>
<line x1="327.8" y1="884.2" x2="329" y2="887" stroke="#222" stroke-width="0.7"/>
<line x1="327.8" y1="891.6" x2="329" y2="894.4" stroke="#222" stroke-width="0.7"/>
<line x1="330" y1="884.2" x2="331.2" y2="887" stroke="#222" stroke-width="0.7"/>
<line x1="330" y1="891.6" x2="331.2" y2="894.4" stroke="#222" stroke-width="0.7"/>
<line x1="332.2" y1="884.2" x2="333.4" y2="887" stroke="#222" stroke-width="0.7"/>
<line x1="332.2" y1="891.6" x2="333.4" y2="894.4" stroke="#222" stroke-width="0.7"/>
<line x1="334.4" y1="884.2" x2="335.6" y2="887" stroke="#222" stroke-width="0.7"/>
<line x1="334.4" y1="891.6" x2="335.6" y2="894.4" stroke="#222" stroke-width="0.7"/>
<line x1="336.6" y1="884.2" x2="337.8" y2="887" stroke="#222" stroke-width="0.7"/>
<line x1="336.6" y1="891.6" x2="337.8" y2="894.4" stroke="#222" stroke-width="0.7"/>
<line x1="323.5" y1="895" x2="323.5" y2="911.2" stroke="#555" stroke-width="1"/>
<line x1="336.5" y1="895" x2="336.5" y2="911.2" stroke="#555" stroke-width="1"/>
<line x1="309.4" y1="909.5" x2="343.8" y2="909.5" stroke="#555" stroke-width="1"/>
<path d="M324.2 909.5 L317 911 L317 908 Z" fill="#1c1c1c"/>
<path d="M336 909.5 L343.2 908 L343.2 911 Z" fill="#1c1c1c"/>
<text transform="translate(329.8 907.3) scale(1.17 1)" font-size="9.2" text-anchor="middle" >13</text>
<line x1="341.4" y1="886.5" x2="368.6" y2="886.5" stroke="#555" stroke-width="1"/>
<line x1="341.4" y1="892.5" x2="368.6" y2="892.5" stroke="#555" stroke-width="1"/>
<line x1="366.5" y1="873.4" x2="366.5" y2="925.4" stroke="#555" stroke-width="1"/>
<path d="M366.5 886.3 L365 879.1 L368 879.1 Z" fill="#1c1c1c"/>
<path d="M366.5 892.2 L368 899.4 L365 899.4 Z" fill="#1c1c1c"/>
<text transform="translate(364.2 914) rotate(-90) scale(1.17 1)" font-size="9.2" text-anchor="middle" >M6</text>
<line x1="459" y1="886.5" x2="534" y2="886.5" stroke="#333" stroke-width="1"/>
<line x1="505.03" y1="892.1" x2="526.24" y2="904.35" stroke="#333" stroke-width="0.8"/>
<line x1="505.03" y1="881.1" x2="526.24" y2="868.85" stroke="#333" stroke-width="0.8"/>
<line x1="485.97" y1="892.1" x2="463.46" y2="905.1" stroke="#333" stroke-width="0.8"/>
<line x1="485.97" y1="881.1" x2="463.46" y2="868.1" stroke="#333" stroke-width="0.8"/>
<path d="M470.68 913.22 A36.4 36.4 0 0 1 470.68 859.98" fill="none" stroke="#222" stroke-width="0.9" stroke-linejoin="round" />
<path d="M520.05 857.34 A38.2 38.2 0 0 1 531.62 899.04" fill="none" stroke="#222" stroke-width="0.9" stroke-linejoin="round" />
<path d="M463.98 904.8 L467.68 909.01 L465.77 910.11 Z" fill="#1c1c1c"/>
<path d="M463.98 904.8 L460.27 900.59 L462.18 899.49 Z" fill="#1c1c1c"/>
<path d="M463.98 868.4 L462.18 873.71 L460.27 872.61 Z" fill="#1c1c1c"/>
<path d="M459.1 886.6 L458 881.1 L460.2 881.1 Z" fill="#1c1c1c"/>
<path d="M459.1 886.6 L460.2 892.1 L458 892.1 Z" fill="#1c1c1c"/>
<path d="M528.58 867.5 L532.28 871.71 L530.38 872.81 Z" fill="#1c1c1c"/>
<path d="M528.58 867.5 L524.88 863.29 L526.78 862.19 Z" fill="#1c1c1c"/>
<path d="M531.62 899.04 L530.87 904.6 L528.79 903.88 Z" fill="#1c1c1c"/>
<circle cx="495.5" cy="886.6" r="9.6" fill="#fff" stroke="#1e1e1e" stroke-width="1.5"/>
<circle cx="495.5" cy="897" r="1.9" fill="#fff" stroke="#1e1e1e" stroke-width="1.2"/>
<circle cx="495.5" cy="897" r="0.7" fill="none" stroke="#444" stroke-width="0.5"/>
<circle cx="486.49" cy="891.8" r="1.9" fill="#fff" stroke="#1e1e1e" stroke-width="1.2"/>
<circle cx="486.49" cy="891.8" r="0.7" fill="none" stroke="#444" stroke-width="0.5"/>
<circle cx="486.49" cy="881.4" r="1.9" fill="#fff" stroke="#1e1e1e" stroke-width="1.2"/>
<circle cx="486.49" cy="881.4" r="0.7" fill="none" stroke="#444" stroke-width="0.5"/>
<circle cx="495.5" cy="876.2" r="1.9" fill="#fff" stroke="#1e1e1e" stroke-width="1.2"/>
<circle cx="495.5" cy="876.2" r="0.7" fill="none" stroke="#444" stroke-width="0.5"/>
<circle cx="504.51" cy="881.4" r="1.9" fill="#fff" stroke="#1e1e1e" stroke-width="1.2"/>
<circle cx="504.51" cy="881.4" r="0.7" fill="none" stroke="#444" stroke-width="0.5"/>
<circle cx="504.51" cy="891.8" r="1.9" fill="#fff" stroke="#1e1e1e" stroke-width="1.2"/>
<circle cx="504.51" cy="891.8" r="0.7" fill="none" stroke="#444" stroke-width="0.5"/>
<circle cx="495.5" cy="886.6" r="8.6" fill="#fff" stroke="#333" stroke-width="0.9"/>
<circle cx="495.5" cy="886.6" r="7.2" fill="none" stroke="#1e1e1e" stroke-width="1.3"/>
<circle cx="495.5" cy="886.6" r="5.2" fill="none" stroke="#333" stroke-width="1"/>
<line x1="493" y1="890.6" x2="498" y2="882.6" stroke="#444" stroke-width="0.6"/>
<line x1="494.5" y1="891.1" x2="499.5" y2="883.1" stroke="#666" stroke-width="0.5"/>
<line x1="515" y1="846" x2="502.2" y2="874.2" stroke="#222" stroke-width="0.9"/>
<path d="M501.7 875.3 L502.81 869.22 L505.54 870.46 Z" fill="#1c1c1c"/>
<text transform="translate(508.2 855.2) rotate(-63) scale(1.17 1)" font-size="9.2" text-anchor="middle" >Ø60</text>
<line x1="485" y1="909.3" x2="489.6" y2="899.6" stroke="#222" stroke-width="0.9"/>
<path d="M490 898.7 L488.79 904.77 L486.08 903.48 Z" fill="#1c1c1c"/>
<text transform="translate(457.6 878.7) rotate(-72) scale(1.17 1)" font-size="9.2" text-anchor="middle" >30°</text>
<text transform="translate(463 893.6) rotate(104) scale(1.17 1)" font-size="9.2" text-anchor="middle" >30°</text>
<text transform="translate(535.3 878.2) rotate(72) scale(1.17 1)" font-size="9.2" text-anchor="middle" >30°</text>
<text transform="translate(517.4 913.6) rotate(-55) scale(1.17 1)" font-size="9.2" text-anchor="middle" >25°</text>
<line x1="513" y1="920.7" x2="530.3" y2="898.7" stroke="#222" stroke-width="0.9"/>
<line x1="595.7" y1="806.5" x2="628.7" y2="806.5" stroke="#555" stroke-width="1"/>
<path d="M595.7 806.5 L602.9 805 L602.9 808 Z" fill="#1c1c1c"/>
<path d="M628.7 806.5 L621.5 808 L621.5 805 Z" fill="#1c1c1c"/>
<text transform="translate(612.6 804) scale(1.17 1)" font-size="9.2" text-anchor="middle" >AD</text>
<line x1="595.5" y1="803.5" x2="595.5" y2="863" stroke="#555" stroke-width="1"/>
<line x1="628.5" y1="803.5" x2="628.5" y2="828.5" stroke="#555" stroke-width="1"/>
<g transform="translate(573.4 819.9)" >
<path d="M0 42.1 V7.4 L4.3 0 H40.4 L44.6 7.4 V42.1 Z" fill="none" stroke="#1e1e1e" stroke-width="1.5" stroke-linejoin="round" />
<path d="M3.6 36.3 V8.5 L6.6 2.7 H38.2 L41 8.5 V36.3" fill="none" stroke="#444" stroke-width="0.8" stroke-linejoin="round" />
<line x1="3.6" y1="36.6" x2="41" y2="36.6" stroke="#333" stroke-width="1"/>
<line x1="0" y1="38.6" x2="44.6" y2="38.6" stroke="#555" stroke-width="0.6"/>
<line x1="3.6" y1="36.3" x2="0.5" y2="38.4" stroke="#555" stroke-width="0.5"/>
<line x1="41" y1="36.3" x2="44" y2="38.4" stroke="#555" stroke-width="0.5"/>
<line x1="3.6" y1="8.6" x2="5.2" y2="8.6" stroke="#444" stroke-width="1"/>
<line x1="39.4" y1="8.6" x2="41" y2="8.6" stroke="#444" stroke-width="1"/>
<line x1="3.6" y1="13.6" x2="5.2" y2="13.6" stroke="#444" stroke-width="1"/>
<line x1="39.4" y1="13.6" x2="41" y2="13.6" stroke="#444" stroke-width="1"/>
<line x1="3.6" y1="18.6" x2="5.2" y2="18.6" stroke="#444" stroke-width="1"/>
<line x1="39.4" y1="18.6" x2="41" y2="18.6" stroke="#444" stroke-width="1"/>
<line x1="3.6" y1="23.6" x2="5.2" y2="23.6" stroke="#444" stroke-width="1"/>
<line x1="39.4" y1="23.6" x2="41" y2="23.6" stroke="#444" stroke-width="1"/>
<line x1="3.6" y1="28.6" x2="5.2" y2="28.6" stroke="#444" stroke-width="1"/>
<line x1="39.4" y1="28.6" x2="41" y2="28.6" stroke="#444" stroke-width="1"/>
<line x1="6.1" y1="8" x2="6.1" y2="34" stroke="#777" stroke-width="0.5"/>
<line x1="39.1" y1="8" x2="39.1" y2="34" stroke="#777" stroke-width="0.5"/>
<path d="M22 6.3 L31.7 11.4 L31.7 21.6 L22 26.7 L12.3 21.6 L12.3 11.4 Z" fill="none" stroke="#1e1e1e" stroke-width="1.35" stroke-linejoin="round" />
<circle cx="22" cy="6.3" r="1.3" fill="#fff" stroke="#1e1e1e" stroke-width="0.8"/>
<circle cx="31.7" cy="11.4" r="1.3" fill="#fff" stroke="#1e1e1e" stroke-width="0.8"/>
<circle cx="31.7" cy="21.6" r="1.3" fill="#fff" stroke="#1e1e1e" stroke-width="0.8"/>
<circle cx="22" cy="26.7" r="1.3" fill="#fff" stroke="#1e1e1e" stroke-width="0.8"/>
<circle cx="12.3" cy="21.6" r="1.3" fill="#fff" stroke="#1e1e1e" stroke-width="0.8"/>
<circle cx="12.3" cy="11.4" r="1.3" fill="#fff" stroke="#1e1e1e" stroke-width="0.8"/>
<circle cx="22" cy="16.5" r="7.6" fill="none" stroke="#444" stroke-width="0.7"/>
<circle cx="22" cy="16.5" r="4.8" fill="none" stroke="#1e1e1e" stroke-width="1.4"/>
<circle cx="22" cy="16.5" r="2.1" fill="none" stroke="#2b2b2b" stroke-width="0.9"/>
<circle cx="14.7" cy="27.7" r="4.8" fill="#fff" stroke="#1e1e1e" stroke-width="1.5"/>
<circle cx="29.4" cy="29.4" r="5.9" fill="#fff" stroke="#1e1e1e" stroke-width="1.5"/>
<circle cx="22.2" cy="26" r="1.2" fill="none" stroke="#2b2b2b" stroke-width="0.7"/>
<circle cx="8.9" cy="7.4" r="1.7" fill="#888" stroke="#2b2b2b" stroke-width="0.8"/>
<line x1="4" y1="16.6" x2="41" y2="16.6" stroke="#555" stroke-width="0.5" stroke-dasharray="6 1.5 1.5 1.5"/>
</g>
<path d="M617.8 828 H624.3 Q628.1 828 628.1 832 V842 Q628.1 846 624.3 846 H617.8" fill="none" stroke="#2b2b2b" stroke-width="1.2" stroke-linejoin="round" />
<line x1="619.5" y1="828" x2="619.5" y2="846" stroke="#444" stroke-width="1"/>
<line x1="621.5" y1="828" x2="621.5" y2="846" stroke="#777" stroke-width="0.5"/>
<line x1="558.7" y1="836.5" x2="574" y2="836.5" stroke="#555" stroke-width="1"/>
<line x1="558.7" y1="862.5" x2="574" y2="862.5" stroke="#555" stroke-width="1"/>
<line x1="561.5" y1="836" x2="561.5" y2="862" stroke="#555" stroke-width="1"/>
<path d="M561.5 836 L563 843.2 L560 843.2 Z" fill="#1c1c1c"/>
<path d="M561.5 862 L560 854.8 L563 854.8 Z" fill="#1c1c1c"/>
<text transform="translate(558.5 848.4) rotate(-90) scale(1.17 1)" font-size="9.2" text-anchor="middle" >76.5</text>
<line x1="573.5" y1="879.5" x2="617.6" y2="879.5" stroke="#555" stroke-width="1"/>
<path d="M573.5 879.5 L580.7 878 L580.7 881 Z" fill="#1c1c1c"/>
<path d="M617.6 879.5 L610.4 881 L610.4 878 Z" fill="#1c1c1c"/>
<text transform="translate(595.4 876.8) scale(1.17 1)" font-size="9.2" text-anchor="middle" >140</text>
<line x1="573.5" y1="862" x2="573.5" y2="881.5" stroke="#555" stroke-width="1"/>
<line x1="617.5" y1="862" x2="617.5" y2="881.5" stroke="#555" stroke-width="1"/>
</svg>
</body></html>
